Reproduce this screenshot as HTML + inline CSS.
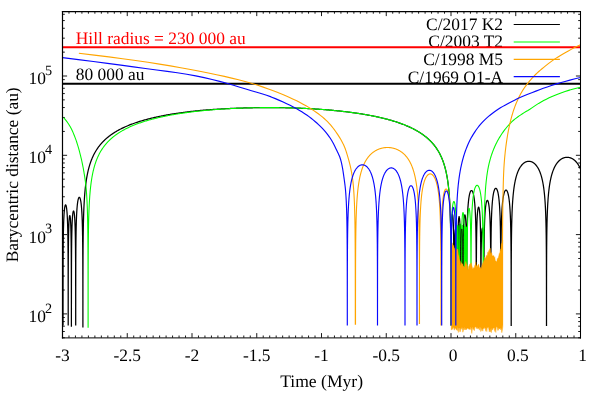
<!DOCTYPE html>
<html><head><meta charset="utf-8"><title>Barycentric distance</title>
<style>html,body{margin:0;padding:0;background:#fff}body{width:591px;height:393px;overflow:hidden;position:relative;font-family:"Liberation Serif",serif}</style>
</head><body>
<svg width="591" height="393" viewBox="0 0 591 393" style="position:absolute;left:0;top:0;will-change:transform">
<rect width="591" height="393" fill="#fff"/>
<defs><clipPath id="pc"><rect x="62.50" y="11.50" width="518.00" height="326.20"/></clipPath></defs>
<path d="M62.50 337.70 v-4.60 M62.50 11.50 v4.60 M68.97 337.70 v-2.20 M68.97 11.50 v2.20 M75.45 337.70 v-2.20 M75.45 11.50 v2.20 M81.92 337.70 v-2.20 M81.92 11.50 v2.20 M88.40 337.70 v-2.20 M88.40 11.50 v2.20 M94.88 337.70 v-2.20 M94.88 11.50 v2.20 M101.35 337.70 v-2.20 M101.35 11.50 v2.20 M107.83 337.70 v-2.20 M107.83 11.50 v2.20 M114.30 337.70 v-2.20 M114.30 11.50 v2.20 M120.78 337.70 v-2.20 M120.78 11.50 v2.20 M127.25 337.70 v-4.60 M127.25 11.50 v4.60 M133.72 337.70 v-2.20 M133.72 11.50 v2.20 M140.20 337.70 v-2.20 M140.20 11.50 v2.20 M146.68 337.70 v-2.20 M146.68 11.50 v2.20 M153.15 337.70 v-2.20 M153.15 11.50 v2.20 M159.62 337.70 v-2.20 M159.62 11.50 v2.20 M166.10 337.70 v-2.20 M166.10 11.50 v2.20 M172.57 337.70 v-2.20 M172.57 11.50 v2.20 M179.05 337.70 v-2.20 M179.05 11.50 v2.20 M185.53 337.70 v-2.20 M185.53 11.50 v2.20 M192.00 337.70 v-4.60 M192.00 11.50 v4.60 M198.47 337.70 v-2.20 M198.47 11.50 v2.20 M204.95 337.70 v-2.20 M204.95 11.50 v2.20 M211.43 337.70 v-2.20 M211.43 11.50 v2.20 M217.90 337.70 v-2.20 M217.90 11.50 v2.20 M224.38 337.70 v-2.20 M224.38 11.50 v2.20 M230.85 337.70 v-2.20 M230.85 11.50 v2.20 M237.32 337.70 v-2.20 M237.32 11.50 v2.20 M243.80 337.70 v-2.20 M243.80 11.50 v2.20 M250.28 337.70 v-2.20 M250.28 11.50 v2.20 M256.75 337.70 v-4.60 M256.75 11.50 v4.60 M263.23 337.70 v-2.20 M263.23 11.50 v2.20 M269.70 337.70 v-2.20 M269.70 11.50 v2.20 M276.18 337.70 v-2.20 M276.18 11.50 v2.20 M282.65 337.70 v-2.20 M282.65 11.50 v2.20 M289.12 337.70 v-2.20 M289.12 11.50 v2.20 M295.60 337.70 v-2.20 M295.60 11.50 v2.20 M302.07 337.70 v-2.20 M302.07 11.50 v2.20 M308.55 337.70 v-2.20 M308.55 11.50 v2.20 M315.02 337.70 v-2.20 M315.02 11.50 v2.20 M321.50 337.70 v-4.60 M321.50 11.50 v4.60 M327.98 337.70 v-2.20 M327.98 11.50 v2.20 M334.45 337.70 v-2.20 M334.45 11.50 v2.20 M340.93 337.70 v-2.20 M340.93 11.50 v2.20 M347.40 337.70 v-2.20 M347.40 11.50 v2.20 M353.88 337.70 v-2.20 M353.88 11.50 v2.20 M360.35 337.70 v-2.20 M360.35 11.50 v2.20 M366.82 337.70 v-2.20 M366.82 11.50 v2.20 M373.30 337.70 v-2.20 M373.30 11.50 v2.20 M379.77 337.70 v-2.20 M379.77 11.50 v2.20 M386.25 337.70 v-4.60 M386.25 11.50 v4.60 M392.73 337.70 v-2.20 M392.73 11.50 v2.20 M399.20 337.70 v-2.20 M399.20 11.50 v2.20 M405.68 337.70 v-2.20 M405.68 11.50 v2.20 M412.15 337.70 v-2.20 M412.15 11.50 v2.20 M418.62 337.70 v-2.20 M418.62 11.50 v2.20 M425.10 337.70 v-2.20 M425.10 11.50 v2.20 M431.57 337.70 v-2.20 M431.57 11.50 v2.20 M438.05 337.70 v-2.20 M438.05 11.50 v2.20 M444.52 337.70 v-2.20 M444.52 11.50 v2.20 M451.00 337.70 v-4.60 M451.00 11.50 v4.60 M457.48 337.70 v-2.20 M457.48 11.50 v2.20 M463.95 337.70 v-2.20 M463.95 11.50 v2.20 M470.43 337.70 v-2.20 M470.43 11.50 v2.20 M476.90 337.70 v-2.20 M476.90 11.50 v2.20 M483.38 337.70 v-2.20 M483.38 11.50 v2.20 M489.85 337.70 v-2.20 M489.85 11.50 v2.20 M496.32 337.70 v-2.20 M496.32 11.50 v2.20 M502.80 337.70 v-2.20 M502.80 11.50 v2.20 M509.27 337.70 v-2.20 M509.27 11.50 v2.20 M515.75 337.70 v-4.60 M515.75 11.50 v4.60 M522.23 337.70 v-2.20 M522.23 11.50 v2.20 M528.70 337.70 v-2.20 M528.70 11.50 v2.20 M535.17 337.70 v-2.20 M535.17 11.50 v2.20 M541.65 337.70 v-2.20 M541.65 11.50 v2.20 M548.12 337.70 v-2.20 M548.12 11.50 v2.20 M554.60 337.70 v-2.20 M554.60 11.50 v2.20 M561.08 337.70 v-2.20 M561.08 11.50 v2.20 M567.55 337.70 v-2.20 M567.55 11.50 v2.20 M574.02 337.70 v-2.20 M574.02 11.50 v2.20 M580.50 337.70 v-4.60 M580.50 11.50 v4.60 M62.50 337.77 h2.30 M580.50 337.77 h-2.30 M62.50 331.49 h2.30 M580.50 331.49 h-2.30 M62.50 326.18 h2.30 M580.50 326.18 h-2.30 M62.50 321.58 h2.30 M580.50 321.58 h-2.30 M62.50 317.53 h2.30 M580.50 317.53 h-2.30 M62.50 313.90 h4.60 M580.50 313.90 h-4.60 M62.50 290.03 h2.30 M580.50 290.03 h-2.30 M62.50 276.06 h2.30 M580.50 276.06 h-2.30 M62.50 266.16 h2.30 M580.50 266.16 h-2.30 M62.50 258.47 h2.30 M580.50 258.47 h-2.30 M62.50 252.19 h2.30 M580.50 252.19 h-2.30 M62.50 246.88 h2.30 M580.50 246.88 h-2.30 M62.50 242.28 h2.30 M580.50 242.28 h-2.30 M62.50 238.23 h2.30 M580.50 238.23 h-2.30 M62.50 234.60 h4.60 M580.50 234.60 h-4.60 M62.50 210.73 h2.30 M580.50 210.73 h-2.30 M62.50 196.76 h2.30 M580.50 196.76 h-2.30 M62.50 186.86 h2.30 M580.50 186.86 h-2.30 M62.50 179.17 h2.30 M580.50 179.17 h-2.30 M62.50 172.89 h2.30 M580.50 172.89 h-2.30 M62.50 167.58 h2.30 M580.50 167.58 h-2.30 M62.50 162.98 h2.30 M580.50 162.98 h-2.30 M62.50 158.93 h2.30 M580.50 158.93 h-2.30 M62.50 155.30 h4.60 M580.50 155.30 h-4.60 M62.50 131.43 h2.30 M580.50 131.43 h-2.30 M62.50 117.46 h2.30 M580.50 117.46 h-2.30 M62.50 107.56 h2.30 M580.50 107.56 h-2.30 M62.50 99.87 h2.30 M580.50 99.87 h-2.30 M62.50 93.59 h2.30 M580.50 93.59 h-2.30 M62.50 88.28 h2.30 M580.50 88.28 h-2.30 M62.50 83.68 h2.30 M580.50 83.68 h-2.30 M62.50 79.63 h2.30 M580.50 79.63 h-2.30 M62.50 76.00 h4.60 M580.50 76.00 h-4.60 M62.50 52.13 h2.30 M580.50 52.13 h-2.30 M62.50 38.16 h2.30 M580.50 38.16 h-2.30 M62.50 28.26 h2.30 M580.50 28.26 h-2.30 M62.50 20.57 h2.30 M580.50 20.57 h-2.30 M62.50 14.29 h2.30 M580.50 14.29 h-2.30" stroke="#000" stroke-width="0.9" fill="none"/>
<g font-family="'Liberation Serif', serif" font-size="17.42" text-rendering="geometricPrecision" style="will-change:transform"><text x="62.50" y="361.40" text-anchor="middle" fill="#000" >-3</text><text x="127.25" y="361.40" text-anchor="middle" fill="#000" >-2.5</text><text x="192.00" y="361.40" text-anchor="middle" fill="#000" >-2</text><text x="256.75" y="361.40" text-anchor="middle" fill="#000" >-1.5</text><text x="321.50" y="361.40" text-anchor="middle" fill="#000" >-1</text><text x="386.25" y="361.40" text-anchor="middle" fill="#000" >-0.5</text><text x="451.00" y="361.40" text-anchor="middle" fill="#000" >&#160;0</text><text x="515.75" y="361.40" text-anchor="middle" fill="#000" >&#160;0.5</text><text x="580.50" y="361.40" text-anchor="middle" fill="#000" >&#160;1</text><text x="321.60" y="387.00" text-anchor="middle" fill="#000" font-size="17.6">Time (Myr)</text><text x="52.10" y="321.80" text-anchor="end" fill="#000" >10<tspan dx="-0.9" dy="-9.3" font-size="14.2">2</tspan></text><text x="52.10" y="242.50" text-anchor="end" fill="#000" >10<tspan dx="-0.9" dy="-9.3" font-size="14.2">3</tspan></text><text x="52.10" y="163.20" text-anchor="end" fill="#000" >10<tspan dx="-0.9" dy="-9.3" font-size="14.2">4</tspan></text><text x="52.10" y="83.90" text-anchor="end" fill="#000" >10<tspan dx="-0.9" dy="-9.3" font-size="14.2">5</tspan></text><text transform="translate(17.9,174.8) rotate(-90)" text-anchor="middle">Barycentric distance (au)</text><text x="75.80" y="43.50" text-anchor="start" fill="#ff0000" >Hill radius = 230 000 au</text><text x="75.80" y="79.90" text-anchor="start" fill="#000" >80 000 au</text><text x="503.00" y="30.30" text-anchor="end" fill="#000" >C/2017 K2</text><text x="503.00" y="47.30" text-anchor="end" fill="#000" >C/2003 T2</text><text x="503.00" y="65.00" text-anchor="end" fill="#000" >C/1998 M5</text><text x="503.00" y="82.50" text-anchor="end" fill="#000" >C/1969 O1-A</text></g>
<path d="M62.50 47.15 H580.50" stroke="#ff0000" stroke-width="2"/>
<path d="M62.50 83.70 H580.50" stroke="#000" stroke-width="2"/>
<defs><clipPath id="pc2"><rect x="458.2" y="224" width="5.8" height="120"/></clipPath></defs>
<g clip-path="url(#pc)">
<path d="M63.01 325.50 L63.01 324.64 L63.01 317.47 L63.01 311.00 L63.01 305.11 L63.02 299.70 L63.02 294.72 L63.03 290.10 L63.03 285.79 L63.04 281.76 L63.05 277.98 L63.06 274.42 L63.06 271.06 L63.07 267.88 L63.09 264.87 L63.10 262.01 L63.11 259.29 L63.12 256.70 L63.14 254.23 L63.16 251.87 L63.17 249.61 L63.19 247.45 L63.21 245.38 L63.23 243.40 L63.25 241.50 L63.28 239.68 L63.30 237.93 L63.33 236.25 L63.35 234.63 L63.38 233.08 L63.41 231.59 L63.44 230.15 L63.47 228.77 L63.51 227.45 L63.54 226.17 L63.58 224.94 L63.61 223.77 L63.65 222.63 L63.69 221.55 L63.73 220.50 L63.77 219.50 L63.82 218.54 L63.86 217.61 L63.91 216.73 L63.95 215.88 L64.00 215.07 L64.05 214.29 L64.10 213.55 L64.15 212.85 L64.20 212.18 L64.26 211.54 L64.31 210.93 L64.36 210.35 L64.42 209.81 L64.48 209.29 L64.54 208.81 L64.59 208.36 L64.65 207.93 L64.71 207.54 L64.77 207.17 L64.83 206.83 L64.90 206.52 L64.96 206.24 L65.02 205.98 L65.08 205.75 L65.15 205.55 L65.21 205.38 L65.28 205.23 L65.34 205.11 L65.41 205.02 L65.47 204.95 L65.54 204.91 L65.60 204.90 L65.66 204.91 L65.73 204.95 L65.79 205.02 L65.86 205.11 L65.92 205.23 L65.99 205.38 L66.05 205.55 L66.12 205.75 L66.18 205.98 L66.24 206.24 L66.30 206.52 L66.37 206.83 L66.43 207.17 L66.49 207.54 L66.55 207.93 L66.61 208.36 L66.66 208.81 L66.72 209.29 L66.78 209.81 L66.84 210.35 L66.89 210.93 L66.94 211.54 L67.00 212.18 L67.05 212.85 L67.10 213.55 L67.15 214.29 L67.20 215.07 L67.25 215.88 L67.29 216.73 L67.34 217.61 L67.38 218.54 L67.43 219.50 L67.47 220.50 L67.51 221.55 L67.55 222.63 L67.59 223.77 L67.62 224.94 L67.66 226.17 L67.69 227.45 L67.73 228.77 L67.76 230.15 L67.79 231.59 L67.82 233.08 L67.85 234.63 L67.87 236.25 L67.90 237.93 L67.92 239.68 L67.95 241.50 L67.97 243.40 L67.99 245.38 L68.01 247.45 L68.03 249.61 L68.04 251.87 L68.06 254.23 L68.08 256.70 L68.09 259.29 L68.10 262.01 L68.11 264.87 L68.13 267.88 L68.14 271.06 L68.14 274.42 L68.15 277.98 L68.16 281.76 L68.17 285.79 L68.17 290.10 L68.18 294.72 L68.18 299.70 L68.19 305.11 L68.19 311.00 L68.19 317.47 L68.19 324.64 L68.19 325.60 M68.21 325.60 L68.21 321.70 L68.21 315.81 L68.21 310.40 L68.21 305.42 L68.22 300.80 L68.22 296.49 L68.22 292.46 L68.23 288.68 L68.23 285.12 L68.24 281.76 L68.25 278.58 L68.25 275.57 L68.26 272.71 L68.27 269.99 L68.28 267.40 L68.29 264.93 L68.30 262.57 L68.31 260.31 L68.32 258.15 L68.33 256.08 L68.34 254.10 L68.36 252.20 L68.37 250.38 L68.38 248.63 L68.40 246.95 L68.42 245.33 L68.43 243.78 L68.45 242.29 L68.47 240.85 L68.49 239.47 L68.51 238.15 L68.53 236.87 L68.55 235.64 L68.58 234.47 L68.60 233.33 L68.62 232.25 L68.65 231.20 L68.68 230.20 L68.70 229.24 L68.73 228.31 L68.76 227.43 L68.79 226.58 L68.82 225.77 L68.85 224.99 L68.88 224.25 L68.91 223.55 L68.94 222.88 L68.97 222.24 L69.01 221.63 L69.04 221.05 L69.07 220.51 L69.11 219.99 L69.14 219.51 L69.18 219.06 L69.22 218.63 L69.25 218.24 L69.29 217.87 L69.33 217.53 L69.37 217.22 L69.41 216.94 L69.44 216.68 L69.48 216.45 L69.52 216.25 L69.56 216.08 L69.60 215.93 L69.64 215.81 L69.68 215.72 L69.72 215.65 L69.76 215.61 L69.80 215.60 L69.84 215.61 L69.88 215.65 L69.92 215.72 L69.96 215.81 L70.00 215.93 L70.04 216.08 L70.08 216.25 L70.12 216.45 L70.16 216.68 L70.19 216.94 L70.23 217.22 L70.27 217.53 L70.31 217.87 L70.35 218.24 L70.38 218.63 L70.42 219.06 L70.46 219.51 L70.49 219.99 L70.53 220.51 L70.56 221.05 L70.59 221.63 L70.63 222.24 L70.66 222.88 L70.69 223.55 L70.72 224.25 L70.75 224.99 L70.78 225.77 L70.81 226.58 L70.84 227.43 L70.87 228.31 L70.90 229.24 L70.92 230.20 L70.95 231.20 L70.98 232.25 L71.00 233.33 L71.02 234.47 L71.05 235.64 L71.07 236.87 L71.09 238.15 L71.11 239.47 L71.13 240.85 L71.15 242.29 L71.17 243.78 L71.18 245.33 L71.20 246.95 L71.22 248.63 L71.23 250.38 L71.24 252.20 L71.26 254.10 L71.27 256.08 L71.28 258.15 L71.29 260.31 L71.30 262.57 L71.31 264.93 L71.32 267.40 L71.33 269.99 L71.34 272.71 L71.35 275.57 L71.35 278.58 L71.36 281.76 L71.37 285.12 L71.37 288.68 L71.38 292.46 L71.38 296.49 L71.38 300.80 L71.39 305.42 L71.39 310.40 L71.39 315.81 L71.39 321.70 L71.39 326.80 M71.41 326.80 L71.41 323.57 L71.41 317.10 L71.41 311.21 L71.41 305.80 L71.42 300.82 L71.42 296.20 L71.43 291.89 L71.43 287.86 L71.44 284.08 L71.45 280.52 L71.45 277.16 L71.46 273.98 L71.47 270.97 L71.48 268.11 L71.49 265.39 L71.50 262.80 L71.52 260.33 L71.53 257.97 L71.54 255.71 L71.56 253.55 L71.57 251.48 L71.59 249.50 L71.61 247.60 L71.63 245.78 L71.65 244.03 L71.67 242.35 L71.69 240.73 L71.71 239.18 L71.74 237.69 L71.76 236.25 L71.79 234.87 L71.82 233.55 L71.85 232.27 L71.88 231.04 L71.91 229.87 L71.94 228.73 L71.97 227.65 L72.00 226.60 L72.04 225.60 L72.07 224.64 L72.11 223.71 L72.15 222.83 L72.19 221.98 L72.23 221.17 L72.27 220.39 L72.31 219.65 L72.35 218.95 L72.39 218.28 L72.44 217.64 L72.48 217.03 L72.53 216.45 L72.57 215.91 L72.62 215.39 L72.67 214.91 L72.72 214.46 L72.77 214.03 L72.82 213.64 L72.87 213.27 L72.92 212.93 L72.97 212.62 L73.02 212.34 L73.07 212.08 L73.12 211.85 L73.18 211.65 L73.23 211.48 L73.28 211.33 L73.34 211.21 L73.39 211.12 L73.44 211.05 L73.50 211.01 L73.55 211.00 L73.60 211.01 L73.66 211.05 L73.71 211.12 L73.76 211.21 L73.82 211.33 L73.87 211.48 L73.92 211.65 L73.98 211.85 L74.03 212.08 L74.08 212.34 L74.13 212.62 L74.18 212.93 L74.23 213.27 L74.28 213.64 L74.33 214.03 L74.38 214.46 L74.43 214.91 L74.48 215.39 L74.53 215.91 L74.57 216.45 L74.62 217.03 L74.66 217.64 L74.71 218.28 L74.75 218.95 L74.79 219.65 L74.83 220.39 L74.87 221.17 L74.91 221.98 L74.95 222.83 L74.99 223.71 L75.03 224.64 L75.06 225.60 L75.10 226.60 L75.13 227.65 L75.16 228.73 L75.19 229.87 L75.22 231.04 L75.25 232.27 L75.28 233.55 L75.31 234.87 L75.34 236.25 L75.36 237.69 L75.39 239.18 L75.41 240.73 L75.43 242.35 L75.45 244.03 L75.47 245.78 L75.49 247.60 L75.51 249.50 L75.53 251.48 L75.54 253.55 L75.56 255.71 L75.57 257.97 L75.58 260.33 L75.60 262.80 L75.61 265.39 L75.62 268.11 L75.63 270.97 L75.64 273.98 L75.65 277.16 L75.65 280.52 L75.66 284.08 L75.67 287.86 L75.67 291.89 L75.68 296.20 L75.68 300.82 L75.69 305.80 L75.69 311.21 L75.69 317.10 L75.69 323.57 L75.69 325.60 M75.71 325.60 L75.71 325.08 L75.71 317.04 L75.71 309.87 L75.72 303.40 L75.72 297.51 L75.73 292.10 L75.73 287.12 L75.74 282.50 L75.75 278.19 L75.76 274.16 L75.77 270.38 L75.78 266.82 L75.79 263.46 L75.80 260.28 L75.82 257.27 L75.84 254.41 L75.85 251.69 L75.87 249.10 L75.89 246.63 L75.92 244.27 L75.94 242.01 L75.96 239.85 L75.99 237.78 L76.02 235.80 L76.05 233.90 L76.08 232.08 L76.12 230.33 L76.15 228.65 L76.19 227.03 L76.23 225.48 L76.27 223.99 L76.31 222.55 L76.35 221.17 L76.40 219.85 L76.45 218.57 L76.50 217.34 L76.55 216.17 L76.60 215.03 L76.66 213.95 L76.71 212.90 L76.77 211.90 L76.83 210.94 L76.89 210.01 L76.95 209.13 L77.02 208.28 L77.09 207.47 L77.15 206.69 L77.22 205.95 L77.29 205.25 L77.37 204.58 L77.44 203.94 L77.51 203.33 L77.59 202.75 L77.67 202.21 L77.75 201.69 L77.83 201.21 L77.91 200.76 L77.99 200.33 L78.07 199.94 L78.16 199.57 L78.24 199.23 L78.33 198.92 L78.41 198.64 L78.50 198.38 L78.59 198.15 L78.67 197.95 L78.76 197.78 L78.85 197.63 L78.94 197.51 L79.03 197.42 L79.12 197.35 L79.21 197.31 L79.30 197.30 L79.39 197.31 L79.48 197.35 L79.57 197.42 L79.66 197.51 L79.75 197.63 L79.84 197.78 L79.93 197.95 L80.01 198.15 L80.10 198.38 L80.19 198.64 L80.27 198.92 L80.36 199.23 L80.44 199.57 L80.53 199.94 L80.61 200.33 L80.69 200.76 L80.77 201.21 L80.85 201.69 L80.93 202.21 L81.01 202.75 L81.09 203.33 L81.16 203.94 L81.23 204.58 L81.31 205.25 L81.38 205.95 L81.45 206.69 L81.51 207.47 L81.58 208.28 L81.65 209.13 L81.71 210.01 L81.77 210.94 L81.83 211.90 L81.89 212.90 L81.94 213.95 L82.00 215.03 L82.05 216.17 L82.10 217.34 L82.15 218.57 L82.20 219.85 L82.25 221.17 L82.29 222.55 L82.33 223.99 L82.37 225.48 L82.41 227.03 L82.45 228.65 L82.48 230.33 L82.52 232.08 L82.55 233.90 L82.58 235.80 L82.61 237.78 L82.64 239.85 L82.66 242.01 L82.68 244.27 L82.71 246.63 L82.73 249.10 L82.75 251.69 L82.76 254.41 L82.78 257.27 L82.80 260.28 L82.81 263.46 L82.82 266.82 L82.83 270.38 L82.84 274.16 L82.85 278.19 L82.86 282.50 L82.87 287.12 L82.87 292.10 L82.88 297.51 L82.88 303.40 L82.89 309.87 L82.89 317.04 L82.89 325.08 L82.89 327.40 M82.91 327.40 L82.91 321.31 L82.91 314.75 L82.91 308.76 L82.92 303.25 L82.92 298.15 L82.92 293.41 L82.93 288.97 L82.93 284.80 L82.94 280.87 L82.95 277.16 L82.96 273.63 L82.97 270.28 L82.98 267.09 L82.99 264.04 L83.00 261.12 L83.01 258.32 L83.02 255.63 L83.04 253.04 L83.05 250.55 L83.07 248.14 L83.09 245.82 L83.11 243.58 L83.13 241.40 L83.15 239.30 L83.18 237.26 L83.20 235.28 L83.23 233.35 L83.26 231.48 L83.29 229.67 L83.32 227.89 L83.35 226.17 L83.38 224.49 L83.42 222.85 L83.46 221.24 L83.50 219.68 L83.54 218.15 L83.58 216.66 L83.63 215.20 L83.67 213.77 L83.72 212.38 L83.77 211.01 L83.83 209.67 L83.88 208.35 L83.94 207.07 L84.00 205.80 L84.06 204.56 L84.12 203.35 L84.19 202.16 L84.26 200.98 L84.33 199.83 L84.40 198.70 L84.48 197.59 L84.56 196.50 L84.64 195.43 L84.72 194.37 L84.81 193.34 L84.89 192.32 L84.99 191.31 L85.08 190.32 L85.18 189.35 L85.27 188.39 L85.38 187.44 L85.48 186.51 L85.59 185.60 L85.70 184.70 L85.81 183.81 L85.93 182.93 L86.05 182.06 L86.17 181.21 L86.29 180.37 L86.42 179.54 L86.55 178.72 L86.69 177.92 L86.83 177.12 L86.97 176.33 L87.11 175.56 L87.26 174.79 L87.41 174.04 L87.56 173.29 L87.72 172.55 L87.88 171.82 L88.05 171.11 L88.21 170.40 L88.39 169.69 L88.56 169.00 L88.74 168.32 L88.92 167.64 L89.10 166.97 L89.29 166.31 L89.49 165.66 L89.68 165.01 L89.88 164.37 L90.09 163.74 L90.29 163.12 L90.50 162.50 L90.72 161.89 L90.94 161.29 L91.16 160.69 L91.39 160.10 L91.62 159.52 L91.85 158.94 L92.09 158.37 L92.33 157.80 L92.58 157.24 L92.83 156.69 L93.08 156.14 L93.34 155.60 L93.60 155.07 L93.87 154.53 L94.14 154.01 L94.41 153.49 L94.69 152.97 L94.97 152.46 L95.26 151.96 L95.55 151.46 L95.85 150.97 L96.15 150.48 L96.45 149.99 L96.76 149.51 L97.07 149.04 L97.39 148.57 L97.71 148.10 L98.04 147.64 L98.37 147.18 L98.70 146.73 L99.04 146.28 L99.38 145.84 L99.73 145.40 L100.08 144.96 L100.44 144.53 L100.80 144.10 L101.17 143.68 L101.54 143.26 L101.91 142.84 L102.29 142.43 L102.68 142.02 L103.06 141.62 L103.46 141.22 L103.85 140.82 L104.26 140.43 L104.66 140.04 L105.07 139.65 L105.49 139.27 L105.91 138.89 L106.33 138.52 L106.76 138.15 L107.20 137.78 L107.64 137.41 L108.08 137.05 L108.53 136.69 L108.98 136.34 L109.44 135.98 L109.90 135.63 L110.37 135.29 L110.84 134.95 L111.32 134.61 L111.80 134.27 L112.28 133.94 L112.77 133.61 L113.27 133.28 L113.77 132.95 L114.27 132.63 L114.78 132.31 L115.30 132.00 L115.82 131.68 L116.34 131.37 L116.87 131.06 L117.40 130.76 L117.94 130.46 L118.48 130.16 L119.03 129.86 L119.58 129.57 L120.14 129.27 L120.70 128.99 L121.26 128.70 L121.83 128.42 L122.41 128.13 L122.99 127.86 L123.57 127.58 L124.16 127.31 L124.76 127.03 L125.36 126.76 L125.96 126.50 L126.57 126.23 L127.18 125.97 L127.80 125.71 L128.42 125.46 L129.05 125.20 L129.68 124.95 L130.31 124.70 L130.96 124.45 L131.60 124.21 L132.25 123.96 L132.90 123.72 L133.56 123.48 L134.23 123.25 L134.90 123.01 L135.57 122.78 L136.24 122.55 L136.93 122.32 L137.61 122.10 L138.30 121.87 L139.00 121.65 L139.70 121.43 L140.40 121.22 L141.11 121.00 L141.82 120.79 L142.54 120.58 L143.26 120.37 L143.99 120.16 L144.72 119.96 L145.45 119.75 L146.19 119.55 L146.94 119.35 L147.68 119.16 L148.43 118.96 L149.19 118.77 L149.95 118.58 L150.72 118.39 L151.48 118.20 L152.26 118.01 L153.03 117.83 L153.82 117.65 L154.60 117.47 L155.39 117.29 L156.18 117.11 L156.98 116.94 L157.78 116.77 L158.59 116.59 L159.40 116.43 L160.21 116.26 L161.03 116.09 L161.85 115.93 L162.68 115.77 L163.51 115.61 L164.34 115.45 L165.18 115.29 L166.02 115.14 L166.86 114.98 L167.71 114.83 L168.56 114.68 L169.42 114.54 L170.28 114.39 L171.14 114.24 L172.00 114.10 L172.87 113.96 L173.75 113.82 L174.63 113.68 L175.51 113.55 L176.39 113.41 L177.28 113.28 L178.17 113.15 L179.06 113.02 L179.96 112.89 L180.86 112.76 L181.77 112.64 L182.67 112.52 L183.58 112.39 L184.50 112.27 L185.42 112.16 L186.34 112.04 L187.26 111.92 L188.19 111.81 L189.12 111.70 L190.05 111.59 L190.98 111.48 L191.92 111.37 L192.86 111.26 L193.81 111.16 L194.75 111.06 L195.70 110.96 L196.66 110.86 L197.61 110.76 L198.57 110.66 L199.53 110.57 L200.50 110.48 L201.46 110.39 L202.43 110.31 L203.40 110.23 L204.37 110.15 L205.35 110.07 L206.33 109.99 L207.31 109.91 L208.29 109.83 L209.28 109.76 L210.27 109.69 L211.26 109.61 L212.25 109.54 L213.24 109.47 L214.24 109.40 L215.24 109.34 L216.24 109.27 L217.24 109.21 L218.25 109.14 L219.25 109.08 L220.26 109.02 L221.27 108.96 L222.28 108.90 L223.30 108.85 L224.31 108.79 L225.33 108.74 L226.35 108.68 L227.37 108.63 L228.39 108.58 L229.42 108.53 L230.44 108.48 L231.47 108.44 L232.50 108.39 L233.53 108.35 L234.56 108.31 L235.59 108.26 L236.62 108.22 L237.66 108.18 L238.69 108.15 L239.73 108.11 L240.77 108.08 L241.81 108.04 L242.85 108.01 L243.89 107.98 L244.93 107.95 L245.97 107.92 L247.02 107.89 L248.06 107.87 L249.11 107.84 L250.15 107.82 L251.20 107.79 L252.25 107.77 L253.29 107.75 L254.34 107.74 L255.39 107.72 L256.44 107.70 L257.49 107.69 L258.54 107.68 L259.59 107.66 L260.64 107.65 L261.69 107.64 L262.74 107.63 L263.80 107.62 L264.85 107.61 L265.90 107.61 L266.95 107.60 L268.00 107.60 L269.05 107.60 L270.10 107.60 L271.16 107.60 L272.21 107.60 L273.26 107.61 L274.31 107.61 L275.36 107.62 L276.41 107.63 L277.46 107.64 L278.51 107.65 L279.56 107.66 L280.61 107.68 L281.65 107.69 L282.70 107.71 L283.75 107.73 L284.79 107.75 L285.84 107.77 L286.88 107.79 L287.93 107.82 L288.97 107.84 L290.01 107.87 L291.05 107.90 L292.09 107.93 L293.13 107.96 L294.17 107.99 L295.21 108.03 L296.24 108.07 L297.28 108.10 L298.31 108.14 L299.34 108.18 L300.37 108.22 L301.40 108.27 L302.43 108.31 L303.46 108.36 L304.48 108.40 L305.51 108.45 L306.53 108.50 L307.55 108.55 L308.57 108.61 L309.59 108.66 L310.60 108.72 L311.62 108.77 L312.63 108.83 L313.64 108.89 L314.65 108.96 L315.65 109.02 L316.66 109.08 L317.66 109.15 L318.66 109.22 L319.66 109.29 L320.66 109.36 L321.65 109.43 L322.64 109.50 L323.63 109.58 L324.62 109.66 L325.61 109.73 L326.59 109.81 L327.57 109.90 L328.55 109.98 L329.53 110.06 L330.50 110.15 L331.47 110.23 L332.44 110.32 L333.40 110.41 L334.37 110.51 L335.33 110.60 L336.29 110.69 L337.24 110.79 L338.20 110.89 L339.15 110.99 L340.09 111.09 L341.04 111.19 L341.98 111.30 L342.92 111.40 L343.85 111.51 L344.78 111.62 L345.71 111.73 L346.64 111.84 L347.56 111.95 L348.48 112.07 L349.40 112.19 L350.32 112.31 L351.23 112.43 L352.13 112.55 L353.04 112.67 L353.94 112.80 L354.84 112.92 L355.73 113.05 L356.62 113.18 L357.51 113.31 L358.39 113.45 L359.27 113.58 L360.15 113.72 L361.03 113.85 L361.90 113.99 L362.76 114.14 L363.62 114.28 L364.48 114.42 L365.34 114.57 L366.19 114.72 L367.04 114.87 L367.88 115.02 L368.72 115.18 L369.56 115.33 L370.39 115.49 L371.22 115.65 L372.05 115.81 L372.87 115.97 L373.69 116.14 L374.50 116.30 L375.31 116.47 L376.12 116.64 L376.92 116.81 L377.72 116.98 L378.51 117.16 L379.30 117.34 L380.08 117.52 L380.87 117.70 L381.64 117.88 L382.42 118.06 L383.18 118.25 L383.95 118.44 L384.71 118.63 L385.47 118.82 L386.22 119.02 L386.96 119.21 L387.71 119.41 L388.45 119.61 L389.18 119.81 L389.91 120.02 L390.64 120.22 L391.36 120.43 L392.08 120.64 L392.79 120.85 L393.50 121.07 L394.20 121.28 L394.90 121.50 L395.60 121.72 L396.29 121.94 L396.97 122.17 L397.66 122.40 L398.33 122.63 L399.00 122.86 L399.67 123.09 L400.34 123.33 L401.00 123.56 L401.65 123.80 L402.30 124.05 L402.94 124.29 L403.59 124.54 L404.22 124.79 L404.85 125.04 L405.48 125.29 L406.10 125.55 L406.72 125.81 L407.33 126.07 L407.94 126.33 L408.54 126.60 L409.14 126.86 L409.74 127.14 L410.33 127.41 L410.91 127.68 L411.49 127.96 L412.07 128.24 L412.64 128.53 L413.20 128.81 L413.76 129.10 L414.32 129.39 L414.87 129.68 L415.42 129.98 L415.96 130.28 L416.50 130.58 L417.03 130.89 L417.56 131.19 L418.08 131.50 L418.60 131.82 L419.12 132.13 L419.63 132.45 L420.13 132.77 L420.63 133.09 L421.13 133.42 L421.62 133.75 L422.10 134.08 L422.58 134.42 L423.06 134.76 L423.53 135.10 L424.00 135.45 L424.46 135.80 L424.92 136.15 L425.37 136.50 L425.82 136.86 L426.26 137.22 L426.70 137.59 L427.14 137.96 L427.57 138.33 L427.99 138.70 L428.41 139.08 L428.83 139.46 L429.24 139.85 L429.64 140.24 L430.05 140.63 L430.44 141.03 L430.84 141.43 L431.22 141.83 L431.61 142.24 L431.99 142.65 L432.36 143.06 L432.73 143.48 L433.10 143.90 L433.46 144.33 L433.82 144.76 L434.17 145.20 L434.52 145.64 L434.86 146.08 L435.20 146.53 L435.53 146.98 L435.86 147.44 L436.19 147.90 L436.51 148.37 L436.83 148.84 L437.14 149.31 L437.45 149.79 L437.75 150.27 L438.05 150.76 L438.35 151.26 L438.64 151.76 L438.93 152.26 L439.21 152.77 L439.49 153.28 L439.76 153.80 L440.03 154.33 L440.30 154.86 L440.56 155.40 L440.82 155.94 L441.07 156.48 L441.32 157.04 L441.57 157.60 L441.81 158.16 L442.05 158.73 L442.28 159.31 L442.51 159.89 L442.74 160.48 L442.96 161.08 L443.18 161.68 L443.40 162.29 L443.61 162.91 L443.81 163.53 L444.02 164.16 L444.22 164.80 L444.41 165.45 L444.61 166.10 L444.80 166.76 L444.98 167.43 L445.16 168.11 L445.34 168.79 L445.51 169.48 L445.69 170.18 L445.85 170.89 L446.02 171.61 L446.18 172.34 L446.34 173.08 L446.49 173.82 L446.64 174.58 L446.79 175.34 L446.93 176.12 L447.07 176.91 L447.21 177.70 L447.35 178.51 L447.48 179.33 L447.61 180.16 L447.73 181.00 L447.85 181.85 L447.97 182.71 L448.09 183.59 L448.20 184.48 L448.31 185.38 L448.42 186.30 L448.52 187.23 L448.63 188.17 L448.72 189.13 L448.82 190.11 L448.91 191.09 L449.01 192.10 L449.09 193.12 L449.18 194.16 L449.26 195.21 L449.34 196.29 L449.42 197.38 L449.50 198.49 L449.57 199.62 L449.64 200.77 L449.71 201.94 L449.78 203.13 L449.84 204.35 L449.90 205.59 L449.96 206.85 L450.02 208.14 L450.07 209.45 L450.13 210.79 L450.18 212.16 L450.23 213.56 L450.27 214.99 L450.32 216.45 L450.36 217.94 L450.40 219.47 L450.44 221.03 L450.48 222.63 L450.52 224.27 L450.55 225.95 L450.58 227.68 L450.61 229.45 L450.64 231.27 L450.67 233.14 L450.70 235.07 L450.72 237.05 L450.75 239.09 L450.77 241.19 L450.79 243.36 L450.81 245.61 L450.83 247.93 L450.85 250.34 L450.86 252.83 L450.88 255.42 L450.89 258.11 L450.90 261.12 L450.91 264.04 L450.92 267.09 L450.93 270.28 L450.94 273.63 L450.95 277.16 L450.96 280.87 L450.97 284.80 L450.97 288.97 L450.98 293.41 L450.98 298.15 L450.98 303.25 L450.99 308.76 L450.99 314.75 L450.99 321.31 L450.99 325.50 M451.00 325.50 L451.01 320.60 L451.01 314.71 L451.01 309.30 L451.01 304.32 L451.02 299.70 L451.02 295.39 L451.02 291.36 L451.03 287.58 L451.03 284.02 L451.04 280.66 L451.04 277.48 L451.05 274.47 L451.05 271.61 L451.06 268.89 L451.07 266.30 L451.08 263.83 L451.09 261.47 L451.10 259.21 L451.11 257.05 L451.12 254.98 L451.13 253.00 L451.14 251.10 L451.15 249.28 L451.17 247.53 L451.18 245.85 L451.20 244.23 L451.21 242.68 L451.23 241.19 L451.25 239.75 L451.26 238.37 L451.28 237.05 L451.30 235.77 L451.32 234.54 L451.34 233.37 L451.36 232.23 L451.38 231.15 L451.41 230.10 L451.43 229.10 L451.46 228.14 L451.48 227.21 L451.51 226.33 L451.53 225.48 L451.56 224.67 L451.59 223.89 L451.61 223.15 L451.64 222.45 L451.67 221.78 L451.70 221.14 L451.73 220.53 L451.76 219.95 L451.79 219.41 L451.82 218.89 L451.86 218.41 L451.89 217.96 L451.92 217.53 L451.96 217.14 L451.99 216.77 L452.02 216.43 L452.06 216.12 L452.09 215.84 L452.13 215.58 L452.16 215.35 L452.20 215.15 L452.23 214.98 L452.27 214.83 L452.31 214.71 L452.34 214.62 L452.38 214.55 L452.41 214.51 L452.45 214.50 L452.49 214.51 L452.52 214.55 L452.56 214.62 L452.59 214.71 L452.63 214.83 L452.67 214.98 L452.70 215.15 L452.74 215.35 L452.77 215.58 L452.81 215.84 L452.84 216.12 L452.88 216.43 L452.91 216.77 L452.94 217.14 L452.98 217.53 L453.01 217.96 L453.04 218.41 L453.08 218.89 L453.11 219.41 L453.14 219.95 L453.17 220.53 L453.20 221.14 L453.23 221.78 L453.26 222.45 L453.29 223.15 L453.31 223.89 L453.34 224.67 L453.37 225.48 L453.39 226.33 L453.42 227.21 L453.44 228.14 L453.47 229.10 L453.49 230.10 L453.52 231.15 L453.54 232.23 L453.56 233.37 L453.58 234.54 L453.60 235.77 L453.62 237.05 L453.64 238.37 L453.65 239.75 L453.67 241.19 L453.69 242.68 L453.70 244.23 L453.72 245.85 L453.73 247.53 L453.75 249.28 L453.76 251.10 L453.77 253.00 L453.78 254.98 L453.79 257.05 L453.80 259.21 L453.81 261.47 L453.82 263.83 L453.83 266.30 L453.84 268.89 L453.85 271.61 L453.85 274.47 L453.86 277.48 L453.86 280.66 L453.87 284.02 L453.87 287.58 L453.88 291.36 L453.88 295.39 L453.88 299.70 L453.89 304.32 L453.89 309.30 L453.89 314.71 L453.89 320.60 L453.90 325.50 M453.91 325.50 L453.91 323.80 L453.92 318.82 L453.92 314.20 L453.92 309.89 L453.93 305.86 L453.93 302.08 L453.94 298.52 L453.95 295.16 L453.95 291.98 L453.96 288.97 L453.97 286.11 L453.98 283.39 L453.99 280.80 L454.00 278.33 L454.01 275.97 L454.02 273.71 L454.04 271.55 L454.05 269.48 L454.06 267.50 L454.08 265.60 L454.10 263.78 L454.11 262.03 L454.13 260.35 L454.15 258.73 L454.17 257.18 L454.19 255.69 L454.21 254.25 L454.24 252.87 L454.26 251.55 L454.28 250.27 L454.31 249.04 L454.34 247.87 L454.36 246.73 L454.39 245.65 L454.42 244.60 L454.45 243.60 L454.48 242.64 L454.51 241.71 L454.54 240.83 L454.58 239.98 L454.61 239.17 L454.65 238.39 L454.68 237.65 L454.72 236.95 L454.76 236.28 L454.79 235.64 L454.83 235.03 L454.87 234.45 L454.91 233.91 L454.95 233.39 L454.99 232.91 L455.03 232.46 L455.08 232.03 L455.12 231.64 L455.16 231.27 L455.21 230.93 L455.25 230.62 L455.29 230.34 L455.34 230.08 L455.38 229.85 L455.43 229.65 L455.47 229.48 L455.52 229.33 L455.57 229.21 L455.61 229.12 L455.66 229.05 L455.70 229.01 L455.75 229.00 L455.80 229.01 L455.84 229.05 L455.89 229.12 L455.93 229.21 L455.98 229.33 L456.03 229.48 L456.07 229.65 L456.12 229.85 L456.16 230.08 L456.21 230.34 L456.25 230.62 L456.29 230.93 L456.34 231.27 L456.38 231.64 L456.42 232.03 L456.47 232.46 L456.51 232.91 L456.55 233.39 L456.59 233.91 L456.63 234.45 L456.67 235.03 L456.71 235.64 L456.74 236.28 L456.78 236.95 L456.82 237.65 L456.85 238.39 L456.89 239.17 L456.92 239.98 L456.96 240.83 L456.99 241.71 L457.02 242.64 L457.05 243.60 L457.08 244.60 L457.11 245.65 L457.14 246.73 L457.16 247.87 L457.19 249.04 L457.22 250.27 L457.24 251.55 L457.26 252.87 L457.29 254.25 L457.31 255.69 L457.33 257.18 L457.35 258.73 L457.37 260.35 L457.39 262.03 L457.40 263.78 L457.42 265.60 L457.44 267.50 L457.45 269.48 L457.46 271.55 L457.48 273.71 L457.49 275.97 L457.50 278.33 L457.51 280.80 L457.52 283.39 L457.53 286.11 L457.54 288.97 L457.55 291.98 L457.55 295.16 L457.56 298.52 L457.57 302.08 L457.57 305.86 L457.58 309.89 L457.58 314.20 L457.58 318.82 L457.59 323.80 L457.59 325.50 M457.61 325.50 L457.61 322.80 L457.61 316.91 L457.61 311.50 L457.61 306.52 L457.62 301.90 L457.62 297.59 L457.62 293.56 L457.63 289.78 L457.63 286.22 L457.64 282.86 L457.64 279.68 L457.65 276.67 L457.66 273.81 L457.66 271.09 L457.67 268.50 L457.68 266.03 L457.69 263.67 L457.70 261.41 L457.71 259.25 L457.72 257.18 L457.73 255.20 L457.75 253.30 L457.76 251.48 L457.77 249.73 L457.79 248.05 L457.80 246.43 L457.82 244.88 L457.84 243.39 L457.85 241.95 L457.87 240.57 L457.89 239.25 L457.91 237.97 L457.93 236.74 L457.95 235.57 L457.98 234.43 L458.00 233.35 L458.02 232.30 L458.05 231.30 L458.07 230.34 L458.10 229.41 L458.12 228.53 L458.15 227.68 L458.18 226.87 L458.21 226.09 L458.23 225.35 L458.26 224.65 L458.29 223.98 L458.32 223.34 L458.36 222.73 L458.39 222.15 L458.42 221.61 L458.45 221.09 L458.49 220.61 L458.52 220.16 L458.55 219.73 L458.59 219.34 L458.62 218.97 L458.66 218.63 L458.69 218.32 L458.73 218.04 L458.77 217.78 L458.80 217.55 L458.84 217.35 L458.88 217.18 L458.91 217.03 L458.95 216.91 L458.99 216.82 L459.03 216.75 L459.06 216.71 L459.10 216.70 L459.14 216.71 L459.17 216.75 L459.21 216.82 L459.25 216.91 L459.29 217.03 L459.32 217.18 L459.36 217.35 L459.40 217.55 L459.43 217.78 L459.47 218.04 L459.51 218.32 L459.54 218.63 L459.58 218.97 L459.61 219.34 L459.65 219.73 L459.68 220.16 L459.71 220.61 L459.75 221.09 L459.78 221.61 L459.81 222.15 L459.84 222.73 L459.88 223.34 L459.91 223.98 L459.94 224.65 L459.97 225.35 L459.99 226.09 L460.02 226.87 L460.05 227.68 L460.08 228.53 L460.10 229.41 L460.13 230.34 L460.15 231.30 L460.18 232.30 L460.20 233.35 L460.22 234.43 L460.25 235.57 L460.27 236.74 L460.29 237.97 L460.31 239.25 L460.33 240.57 L460.35 241.95 L460.36 243.39 L460.38 244.88 L460.40 246.43 L460.41 248.05 L460.43 249.73 L460.44 251.48 L460.45 253.30 L460.47 255.20 L460.48 257.18 L460.49 259.25 L460.50 261.41 L460.51 263.67 L460.52 266.03 L460.53 268.50 L460.54 271.09 L460.54 273.81 L460.55 276.67 L460.56 279.68 L460.56 282.86 L460.57 286.22 L460.57 289.78 L460.58 293.56 L460.58 297.59 L460.58 301.90 L460.59 306.52 L460.59 311.50 L460.59 316.91 L460.59 322.80 L460.59 325.50 M460.61 325.50 L460.61 323.80 L460.61 318.82 L460.61 314.20 L460.62 309.89 L460.62 305.86 L460.62 302.08 L460.63 298.52 L460.63 295.16 L460.63 291.98 L460.64 288.97 L460.65 286.11 L460.65 283.39 L460.66 280.80 L460.66 278.33 L460.67 275.97 L460.68 273.71 L460.69 271.55 L460.70 269.48 L460.71 267.50 L460.72 265.60 L460.73 263.78 L460.74 262.03 L460.75 260.35 L460.76 258.73 L460.78 257.18 L460.79 255.69 L460.80 254.25 L460.82 252.87 L460.83 251.55 L460.85 250.27 L460.87 249.04 L460.88 247.87 L460.90 246.73 L460.92 245.65 L460.94 244.60 L460.96 243.60 L460.98 242.64 L461.00 241.71 L461.02 240.83 L461.04 239.98 L461.06 239.17 L461.08 238.39 L461.11 237.65 L461.13 236.95 L461.16 236.28 L461.18 235.64 L461.20 235.03 L461.23 234.45 L461.26 233.91 L461.28 233.39 L461.31 232.91 L461.34 232.46 L461.36 232.03 L461.39 231.64 L461.42 231.27 L461.45 230.93 L461.48 230.62 L461.50 230.34 L461.53 230.08 L461.56 229.85 L461.59 229.65 L461.62 229.48 L461.65 229.33 L461.68 229.21 L461.71 229.12 L461.74 229.05 L461.77 229.01 L461.80 229.00 L461.83 229.01 L461.86 229.05 L461.89 229.12 L461.92 229.21 L461.95 229.33 L461.98 229.48 L462.01 229.65 L462.04 229.85 L462.07 230.08 L462.10 230.34 L462.12 230.62 L462.15 230.93 L462.18 231.27 L462.21 231.64 L462.24 232.03 L462.26 232.46 L462.29 232.91 L462.32 233.39 L462.34 233.91 L462.37 234.45 L462.40 235.03 L462.42 235.64 L462.44 236.28 L462.47 236.95 L462.49 237.65 L462.52 238.39 L462.54 239.17 L462.56 239.98 L462.58 240.83 L462.60 241.71 L462.62 242.64 L462.64 243.60 L462.66 244.60 L462.68 245.65 L462.70 246.73 L462.72 247.87 L462.73 249.04 L462.75 250.27 L462.77 251.55 L462.78 252.87 L462.80 254.25 L462.81 255.69 L462.82 257.18 L462.84 258.73 L462.85 260.35 L462.86 262.03 L462.87 263.78 L462.88 265.60 L462.89 267.50 L462.90 269.48 L462.91 271.55 L462.92 273.71 L462.93 275.97 L462.94 278.33 L462.94 280.80 L462.95 283.39 L462.95 286.11 L462.96 288.97 L462.97 291.98 L462.97 295.16 L462.97 298.52 L462.98 302.08 L462.98 305.86 L462.98 309.89 L462.99 314.20 L462.99 318.82 L462.99 323.80 L462.99 325.50 M463.01 325.50 L463.01 321.00 L463.01 315.11 L463.01 309.70 L463.02 304.72 L463.02 300.10 L463.02 295.79 L463.03 291.76 L463.03 287.98 L463.04 284.42 L463.05 281.06 L463.05 277.88 L463.06 274.87 L463.07 272.01 L463.08 269.29 L463.09 266.70 L463.10 264.23 L463.11 261.87 L463.12 259.61 L463.14 257.45 L463.15 255.38 L463.16 253.40 L463.18 251.50 L463.20 249.68 L463.21 247.93 L463.23 246.25 L463.25 244.63 L463.27 243.08 L463.29 241.59 L463.31 240.15 L463.34 238.77 L463.36 237.45 L463.38 236.17 L463.41 234.94 L463.44 233.77 L463.46 232.63 L463.49 231.55 L463.52 230.50 L463.55 229.50 L463.58 228.54 L463.61 227.61 L463.64 226.73 L463.68 225.88 L463.71 225.07 L463.75 224.29 L463.78 223.55 L463.82 222.85 L463.86 222.18 L463.89 221.54 L463.93 220.93 L463.97 220.35 L464.01 219.81 L464.05 219.29 L464.09 218.81 L464.13 218.36 L464.18 217.93 L464.22 217.54 L464.26 217.17 L464.31 216.83 L464.35 216.52 L464.39 216.24 L464.44 215.98 L464.48 215.75 L464.53 215.55 L464.57 215.38 L464.62 215.23 L464.67 215.11 L464.71 215.02 L464.76 214.95 L464.80 214.91 L464.85 214.90 L464.90 214.91 L464.94 214.95 L464.99 215.02 L465.03 215.11 L465.08 215.23 L465.13 215.38 L465.17 215.55 L465.22 215.75 L465.26 215.98 L465.31 216.24 L465.35 216.52 L465.39 216.83 L465.44 217.17 L465.48 217.54 L465.52 217.93 L465.57 218.36 L465.61 218.81 L465.65 219.29 L465.69 219.81 L465.73 220.35 L465.77 220.93 L465.81 221.54 L465.84 222.18 L465.88 222.85 L465.92 223.55 L465.95 224.29 L465.99 225.07 L466.02 225.88 L466.06 226.73 L466.09 227.61 L466.12 228.54 L466.15 229.50 L466.18 230.50 L466.21 231.55 L466.24 232.63 L466.26 233.77 L466.29 234.94 L466.32 236.17 L466.34 237.45 L466.36 238.77 L466.39 240.15 L466.41 241.59 L466.43 243.08 L466.45 244.63 L466.47 246.25 L466.49 247.93 L466.50 249.68 L466.52 251.50 L466.54 253.40 L466.55 255.38 L466.56 257.45 L466.58 259.61 L466.59 261.87 L466.60 264.23 L466.61 266.70 L466.62 269.29 L466.63 272.01 L466.64 274.87 L466.65 277.88 L466.65 281.06 L466.66 284.42 L466.67 287.98 L466.67 291.76 L466.68 295.79 L466.68 300.10 L466.68 304.72 L466.69 309.70 L466.69 315.11 L466.69 321.00 L466.69 325.50 M466.71 325.50 L466.71 318.28 L466.71 310.24 L466.72 303.07 L466.72 296.60 L466.73 290.71 L466.73 285.30 L466.74 280.32 L466.75 275.70 L466.76 271.39 L466.77 267.36 L466.79 263.58 L466.80 260.02 L466.82 256.66 L466.84 253.48 L466.86 250.47 L466.88 247.61 L466.90 244.89 L466.93 242.30 L466.96 239.83 L466.99 237.47 L467.02 235.21 L467.05 233.05 L467.09 230.98 L467.13 229.00 L467.17 227.10 L467.21 225.28 L467.25 223.53 L467.30 221.85 L467.35 220.23 L467.40 218.68 L467.46 217.19 L467.51 215.75 L467.57 214.37 L467.63 213.05 L467.70 211.77 L467.76 210.54 L467.83 209.37 L467.90 208.23 L467.97 207.15 L468.05 206.10 L468.13 205.10 L468.21 204.14 L468.29 203.21 L468.37 202.33 L468.46 201.48 L468.55 200.67 L468.64 199.89 L468.73 199.15 L468.82 198.45 L468.92 197.78 L469.02 197.14 L469.12 196.53 L469.22 195.95 L469.32 195.41 L469.43 194.89 L469.53 194.41 L469.64 193.96 L469.75 193.53 L469.86 193.14 L469.97 192.77 L470.09 192.43 L470.20 192.12 L470.32 191.84 L470.43 191.58 L470.55 191.35 L470.67 191.15 L470.78 190.98 L470.90 190.83 L471.02 190.71 L471.14 190.62 L471.26 190.55 L471.38 190.51 L471.50 190.50 L471.62 190.51 L471.74 190.55 L471.86 190.62 L471.98 190.71 L472.10 190.83 L472.22 190.98 L472.33 191.15 L472.45 191.35 L472.57 191.58 L472.68 191.84 L472.80 192.12 L472.91 192.43 L473.03 192.77 L473.14 193.14 L473.25 193.53 L473.36 193.96 L473.47 194.41 L473.57 194.89 L473.68 195.41 L473.78 195.95 L473.88 196.53 L473.98 197.14 L474.08 197.78 L474.18 198.45 L474.27 199.15 L474.36 199.89 L474.45 200.67 L474.54 201.48 L474.63 202.33 L474.71 203.21 L474.79 204.14 L474.87 205.10 L474.95 206.10 L475.03 207.15 L475.10 208.23 L475.17 209.37 L475.24 210.54 L475.30 211.77 L475.37 213.05 L475.43 214.37 L475.49 215.75 L475.54 217.19 L475.60 218.68 L475.65 220.23 L475.70 221.85 L475.75 223.53 L475.79 225.28 L475.83 227.10 L475.87 229.00 L475.91 230.98 L475.95 233.05 L475.98 235.21 L476.01 237.47 L476.04 239.83 L476.07 242.30 L476.10 244.89 L476.12 247.61 L476.14 250.47 L476.16 253.48 L476.18 256.66 L476.20 260.02 L476.21 263.58 L476.23 267.36 L476.24 271.39 L476.25 275.70 L476.26 280.32 L476.27 285.30 L476.27 290.71 L476.28 296.60 L476.28 303.07 L476.29 310.24 L476.29 318.28 L476.29 326.00 M476.31 326.00 L476.31 319.77 L476.31 313.30 L476.31 307.41 L476.32 302.00 L476.32 297.02 L476.32 292.40 L476.33 288.09 L476.34 284.06 L476.34 280.28 L476.35 276.72 L476.36 273.36 L476.37 270.18 L476.38 267.17 L476.39 264.31 L476.40 261.59 L476.41 259.00 L476.42 256.53 L476.44 254.17 L476.45 251.91 L476.47 249.75 L476.49 247.68 L476.50 245.70 L476.52 243.80 L476.54 241.98 L476.57 240.23 L476.59 238.55 L476.61 236.93 L476.64 235.38 L476.66 233.89 L476.69 232.45 L476.72 231.07 L476.75 229.75 L476.78 228.47 L476.81 227.24 L476.84 226.07 L476.88 224.93 L476.91 223.85 L476.95 222.80 L476.98 221.80 L477.02 220.84 L477.06 219.91 L477.10 219.03 L477.14 218.18 L477.18 217.37 L477.23 216.59 L477.27 215.85 L477.32 215.15 L477.36 214.48 L477.41 213.84 L477.46 213.23 L477.51 212.65 L477.56 212.11 L477.61 211.59 L477.66 211.11 L477.71 210.66 L477.76 210.23 L477.81 209.84 L477.87 209.47 L477.92 209.13 L477.98 208.82 L478.03 208.54 L478.09 208.28 L478.14 208.05 L478.20 207.85 L478.26 207.68 L478.31 207.53 L478.37 207.41 L478.43 207.32 L478.49 207.25 L478.54 207.21 L478.60 207.20 L478.66 207.21 L478.71 207.25 L478.77 207.32 L478.83 207.41 L478.89 207.53 L478.94 207.68 L479.00 207.85 L479.06 208.05 L479.11 208.28 L479.17 208.54 L479.22 208.82 L479.28 209.13 L479.33 209.47 L479.39 209.84 L479.44 210.23 L479.49 210.66 L479.54 211.11 L479.59 211.59 L479.64 212.11 L479.69 212.65 L479.74 213.23 L479.79 213.84 L479.84 214.48 L479.88 215.15 L479.93 215.85 L479.97 216.59 L480.02 217.37 L480.06 218.18 L480.10 219.03 L480.14 219.91 L480.18 220.84 L480.22 221.80 L480.25 222.80 L480.29 223.85 L480.32 224.93 L480.36 226.07 L480.39 227.24 L480.42 228.47 L480.45 229.75 L480.48 231.07 L480.51 232.45 L480.54 233.89 L480.56 235.38 L480.59 236.93 L480.61 238.55 L480.63 240.23 L480.66 241.98 L480.68 243.80 L480.70 245.70 L480.71 247.68 L480.73 249.75 L480.75 251.91 L480.76 254.17 L480.78 256.53 L480.79 259.00 L480.80 261.59 L480.81 264.31 L480.82 267.17 L480.83 270.18 L480.84 273.36 L480.85 276.72 L480.86 280.28 L480.86 284.06 L480.87 288.09 L480.88 292.40 L480.88 297.02 L480.88 302.00 L480.89 307.41 L480.89 313.30 L480.89 319.77 L480.89 325.50 M480.91 325.50 L480.91 322.80 L480.91 317.82 L480.92 313.20 L480.92 308.89 L480.92 304.86 L480.93 301.08 L480.93 297.52 L480.94 294.16 L480.94 290.98 L480.95 287.97 L480.96 285.11 L480.96 282.39 L480.97 279.80 L480.98 277.33 L480.99 274.97 L481.00 272.71 L481.01 270.55 L481.02 268.48 L481.03 266.50 L481.05 264.60 L481.06 262.78 L481.07 261.03 L481.09 259.35 L481.10 257.73 L481.12 256.18 L481.14 254.69 L481.15 253.25 L481.17 251.87 L481.19 250.55 L481.21 249.27 L481.23 248.04 L481.25 246.87 L481.28 245.73 L481.30 244.65 L481.32 243.60 L481.35 242.60 L481.37 241.64 L481.40 240.71 L481.42 239.83 L481.45 238.98 L481.48 238.17 L481.51 237.39 L481.53 236.65 L481.56 235.95 L481.59 235.28 L481.62 234.64 L481.66 234.03 L481.69 233.45 L481.72 232.91 L481.75 232.39 L481.79 231.91 L481.82 231.46 L481.85 231.03 L481.89 230.64 L481.92 230.27 L481.96 229.93 L481.99 229.62 L482.03 229.34 L482.07 229.08 L482.10 228.85 L482.14 228.65 L482.18 228.48 L482.21 228.33 L482.25 228.21 L482.29 228.12 L482.33 228.05 L482.36 228.01 L482.40 228.00 L482.44 228.01 L482.47 228.05 L482.51 228.12 L482.55 228.21 L482.59 228.33 L482.62 228.48 L482.66 228.65 L482.70 228.85 L482.73 229.08 L482.77 229.34 L482.81 229.62 L482.84 229.93 L482.88 230.27 L482.91 230.64 L482.95 231.03 L482.98 231.46 L483.01 231.91 L483.05 232.39 L483.08 232.91 L483.11 233.45 L483.14 234.03 L483.18 234.64 L483.21 235.28 L483.24 235.95 L483.27 236.65 L483.29 237.39 L483.32 238.17 L483.35 238.98 L483.38 239.83 L483.40 240.71 L483.43 241.64 L483.45 242.60 L483.48 243.60 L483.50 244.65 L483.52 245.73 L483.55 246.87 L483.57 248.04 L483.59 249.27 L483.61 250.55 L483.63 251.87 L483.65 253.25 L483.66 254.69 L483.68 256.18 L483.70 257.73 L483.71 259.35 L483.73 261.03 L483.74 262.78 L483.75 264.60 L483.77 266.50 L483.78 268.48 L483.79 270.55 L483.80 272.71 L483.81 274.97 L483.82 277.33 L483.83 279.80 L483.84 282.39 L483.84 285.11 L483.85 287.97 L483.86 290.98 L483.86 294.16 L483.87 297.52 L483.87 301.08 L483.88 304.86 L483.88 308.89 L483.88 313.20 L483.89 317.82 L483.89 322.80 L483.89 325.50 M483.91 325.50 L483.91 320.14 L483.91 312.97 L483.91 306.50 L483.92 300.61 L483.92 295.20 L483.93 290.22 L483.94 285.60 L483.94 281.29 L483.95 277.26 L483.96 273.48 L483.97 269.92 L483.99 266.56 L484.00 263.38 L484.01 260.37 L484.03 257.51 L484.05 254.79 L484.07 252.20 L484.08 249.73 L484.11 247.37 L484.13 245.11 L484.15 242.95 L484.18 240.88 L484.21 238.90 L484.24 237.00 L484.27 235.18 L484.30 233.43 L484.33 231.75 L484.37 230.13 L484.41 228.58 L484.44 227.09 L484.48 225.65 L484.53 224.27 L484.57 222.95 L484.62 221.67 L484.66 220.44 L484.71 219.27 L484.76 218.13 L484.82 217.05 L484.87 216.00 L484.93 215.00 L484.98 214.04 L485.04 213.11 L485.10 212.23 L485.16 211.38 L485.23 210.57 L485.29 209.79 L485.36 209.05 L485.43 208.35 L485.50 207.68 L485.57 207.04 L485.64 206.43 L485.71 205.85 L485.79 205.31 L485.86 204.79 L485.94 204.31 L486.01 203.86 L486.09 203.43 L486.17 203.04 L486.25 202.67 L486.33 202.33 L486.42 202.02 L486.50 201.74 L486.58 201.48 L486.67 201.25 L486.75 201.05 L486.83 200.88 L486.92 200.73 L487.01 200.61 L487.09 200.52 L487.18 200.45 L487.26 200.41 L487.35 200.40 L487.44 200.41 L487.52 200.45 L487.61 200.52 L487.69 200.61 L487.78 200.73 L487.87 200.88 L487.95 201.05 L488.03 201.25 L488.12 201.48 L488.20 201.74 L488.28 202.02 L488.37 202.33 L488.45 202.67 L488.53 203.04 L488.61 203.43 L488.69 203.86 L488.76 204.31 L488.84 204.79 L488.91 205.31 L488.99 205.85 L489.06 206.43 L489.13 207.04 L489.20 207.68 L489.27 208.35 L489.34 209.05 L489.41 209.79 L489.47 210.57 L489.54 211.38 L489.60 212.23 L489.66 213.11 L489.72 214.04 L489.77 215.00 L489.83 216.00 L489.88 217.05 L489.94 218.13 L489.99 219.27 L490.04 220.44 L490.08 221.67 L490.13 222.95 L490.17 224.27 L490.22 225.65 L490.26 227.09 L490.29 228.58 L490.33 230.13 L490.37 231.75 L490.40 233.43 L490.43 235.18 L490.46 237.00 L490.49 238.90 L490.52 240.88 L490.55 242.95 L490.57 245.11 L490.59 247.37 L490.62 249.73 L490.63 252.20 L490.65 254.79 L490.67 257.51 L490.69 260.37 L490.70 263.38 L490.71 266.56 L490.73 269.92 L490.74 273.48 L490.75 277.26 L490.76 281.29 L490.76 285.60 L490.77 290.22 L490.78 295.20 L490.78 300.61 L490.79 306.50 L490.79 312.97 L490.79 320.14 L490.79 326.00 M490.81 326.00 L490.81 325.21 L490.81 316.08 L490.81 308.04 L490.82 300.87 L490.82 294.40 L490.83 288.51 L490.83 283.10 L490.84 278.12 L490.85 273.50 L490.86 269.19 L490.88 265.16 L490.89 261.38 L490.91 257.82 L490.92 254.46 L490.94 251.28 L490.96 248.27 L490.99 245.41 L491.01 242.69 L491.04 240.10 L491.07 237.63 L491.10 235.27 L491.13 233.01 L491.17 230.85 L491.20 228.78 L491.24 226.80 L491.29 224.90 L491.33 223.08 L491.38 221.33 L491.43 219.65 L491.48 218.03 L491.53 216.48 L491.59 214.99 L491.65 213.55 L491.71 212.17 L491.77 210.85 L491.84 209.57 L491.91 208.34 L491.98 207.17 L492.05 206.03 L492.13 204.95 L492.21 203.90 L492.29 202.90 L492.37 201.94 L492.45 201.01 L492.54 200.13 L492.63 199.28 L492.72 198.47 L492.82 197.69 L492.91 196.95 L493.01 196.25 L493.11 195.58 L493.21 194.94 L493.32 194.33 L493.42 193.75 L493.53 193.21 L493.64 192.69 L493.75 192.21 L493.86 191.76 L493.98 191.33 L494.09 190.94 L494.21 190.57 L494.33 190.23 L494.45 189.92 L494.57 189.64 L494.69 189.38 L494.81 189.15 L494.93 188.95 L495.05 188.78 L495.18 188.63 L495.30 188.51 L495.43 188.42 L495.55 188.35 L495.68 188.31 L495.80 188.30 L495.92 188.31 L496.05 188.35 L496.17 188.42 L496.30 188.51 L496.42 188.63 L496.55 188.78 L496.67 188.95 L496.79 189.15 L496.91 189.38 L497.03 189.64 L497.15 189.92 L497.27 190.23 L497.39 190.57 L497.51 190.94 L497.62 191.33 L497.74 191.76 L497.85 192.21 L497.96 192.69 L498.07 193.21 L498.18 193.75 L498.28 194.33 L498.39 194.94 L498.49 195.58 L498.59 196.25 L498.69 196.95 L498.78 197.69 L498.88 198.47 L498.97 199.28 L499.06 200.13 L499.15 201.01 L499.23 201.94 L499.31 202.90 L499.39 203.90 L499.47 204.95 L499.55 206.03 L499.62 207.17 L499.69 208.34 L499.76 209.57 L499.83 210.85 L499.89 212.17 L499.95 213.55 L500.01 214.99 L500.07 216.48 L500.12 218.03 L500.17 219.65 L500.22 221.33 L500.27 223.08 L500.31 224.90 L500.36 226.80 L500.40 228.78 L500.43 230.85 L500.47 233.01 L500.50 235.27 L500.53 237.63 L500.56 240.10 L500.59 242.69 L500.61 245.41 L500.64 248.27 L500.66 251.28 L500.68 254.46 L500.69 257.82 L500.71 261.38 L500.72 265.16 L500.74 269.19 L500.75 273.50 L500.76 278.12 L500.77 283.10 L500.77 288.51 L500.78 294.40 L500.78 300.87 L500.79 308.04 L500.79 316.08 L500.79 325.21 L500.79 326.00 M500.81 326.00 L500.81 317.88 L500.81 309.84 L500.82 302.67 L500.82 296.20 L500.83 290.31 L500.84 284.90 L500.85 279.92 L500.86 275.30 L500.87 270.99 L500.88 266.96 L500.90 263.18 L500.91 259.62 L500.93 256.26 L500.95 253.08 L500.97 250.07 L501.00 247.21 L501.02 244.49 L501.05 241.90 L501.08 239.43 L501.11 237.07 L501.15 234.81 L501.18 232.65 L501.22 230.58 L501.26 228.60 L501.31 226.70 L501.35 224.88 L501.40 223.13 L501.45 221.45 L501.51 219.83 L501.56 218.28 L501.62 216.79 L501.68 215.35 L501.74 213.97 L501.81 212.65 L501.88 211.37 L501.95 210.14 L502.03 208.97 L502.10 207.83 L502.18 206.75 L502.26 205.70 L502.35 204.70 L502.43 203.74 L502.52 202.81 L502.61 201.93 L502.71 201.08 L502.80 200.27 L502.90 199.49 L503.00 198.75 L503.10 198.05 L503.21 197.38 L503.31 196.74 L503.42 196.13 L503.53 195.55 L503.64 195.01 L503.76 194.49 L503.87 194.01 L503.99 193.56 L504.11 193.13 L504.23 192.74 L504.35 192.37 L504.47 192.03 L504.59 191.72 L504.72 191.44 L504.84 191.18 L504.97 190.95 L505.10 190.75 L505.22 190.58 L505.35 190.43 L505.48 190.31 L505.61 190.22 L505.74 190.15 L505.87 190.11 L506.00 190.10 L506.13 190.11 L506.26 190.15 L506.39 190.22 L506.52 190.31 L506.65 190.43 L506.78 190.58 L506.90 190.75 L507.03 190.95 L507.16 191.18 L507.28 191.44 L507.41 191.72 L507.53 192.03 L507.65 192.37 L507.77 192.74 L507.89 193.13 L508.01 193.56 L508.13 194.01 L508.24 194.49 L508.36 195.01 L508.47 195.55 L508.58 196.13 L508.69 196.74 L508.79 197.38 L508.90 198.05 L509.00 198.75 L509.10 199.49 L509.20 200.27 L509.29 201.08 L509.39 201.93 L509.48 202.81 L509.57 203.74 L509.65 204.70 L509.74 205.70 L509.82 206.75 L509.90 207.83 L509.97 208.97 L510.05 210.14 L510.12 211.37 L510.19 212.65 L510.26 213.97 L510.32 215.35 L510.38 216.79 L510.44 218.28 L510.49 219.83 L510.55 221.45 L510.60 223.13 L510.65 224.88 L510.69 226.70 L510.74 228.60 L510.78 230.58 L510.82 232.65 L510.85 234.81 L510.89 237.07 L510.92 239.43 L510.95 241.90 L510.98 244.49 L511.00 247.21 L511.03 250.07 L511.05 253.08 L511.07 256.26 L511.09 259.62 L511.10 263.18 L511.12 266.96 L511.13 270.99 L511.14 275.30 L511.15 279.92 L511.16 284.90 L511.17 290.31 L511.18 296.20 L511.18 302.67 L511.19 309.84 L511.19 317.88 L511.19 326.10 M511.21 326.10 L511.21 324.08 L511.21 316.85 L511.21 310.31 L511.21 304.35 L511.22 298.86 L511.22 293.79 L511.23 289.08 L511.24 284.67 L511.24 280.54 L511.25 276.65 L511.26 272.97 L511.27 269.48 L511.28 266.18 L511.29 263.03 L511.30 260.02 L511.32 257.15 L511.33 254.40 L511.35 251.76 L511.37 249.23 L511.39 246.79 L511.41 244.45 L511.43 242.19 L511.45 240.01 L511.48 237.90 L511.50 235.86 L511.53 233.89 L511.56 231.98 L511.59 230.13 L511.62 228.34 L511.66 226.60 L511.69 224.91 L511.73 223.26 L511.77 221.67 L511.81 220.11 L511.86 218.60 L511.90 217.13 L511.95 215.69 L512.00 214.29 L512.05 212.93 L512.10 211.60 L512.16 210.31 L512.22 209.04 L512.28 207.81 L512.34 206.60 L512.40 205.43 L512.47 204.28 L512.54 203.15 L512.61 202.06 L512.68 200.98 L512.76 199.93 L512.84 198.91 L512.92 197.90 L513.00 196.92 L513.08 195.96 L513.17 195.02 L513.26 194.10 L513.35 193.20 L513.45 192.32 L513.54 191.45 L513.64 190.61 L513.75 189.78 L513.85 188.97 L513.96 188.18 L514.06 187.41 L514.18 186.64 L514.29 185.90 L514.41 185.17 L514.53 184.46 L514.65 183.76 L514.77 183.07 L514.90 182.40 L515.03 181.75 L515.16 181.11 L515.29 180.48 L515.43 179.86 L515.57 179.26 L515.71 178.67 L515.85 178.09 L516.00 177.52 L516.14 176.97 L516.29 176.43 L516.45 175.90 L516.60 175.38 L516.76 174.87 L516.92 174.38 L517.08 173.89 L517.25 173.42 L517.41 172.96 L517.58 172.50 L517.75 172.06 L517.93 171.63 L518.10 171.21 L518.28 170.80 L518.46 170.39 L518.64 170.00 L518.82 169.62 L519.01 169.25 L519.20 168.89 L519.39 168.53 L519.58 168.19 L519.77 167.85 L519.97 167.53 L520.17 167.21 L520.36 166.90 L520.57 166.61 L520.77 166.32 L520.97 166.03 L521.18 165.76 L521.39 165.50 L521.59 165.24 L521.81 165.00 L522.02 164.76 L522.23 164.53 L522.45 164.30 L522.66 164.09 L522.88 163.89 L523.10 163.69 L523.32 163.50 L523.54 163.32 L523.76 163.14 L523.99 162.98 L524.21 162.82 L524.44 162.67 L524.66 162.53 L524.89 162.40 L525.12 162.27 L525.35 162.15 L525.58 162.04 L525.81 161.94 L526.04 161.85 L526.27 161.76 L526.51 161.68 L526.74 161.61 L526.97 161.54 L527.21 161.49 L527.44 161.44 L527.67 161.39 L527.91 161.36 L528.14 161.33 L528.38 161.32 L528.61 161.30 L528.85 161.30 L529.09 161.30 L529.32 161.32 L529.56 161.33 L529.79 161.36 L530.03 161.39 L530.26 161.44 L530.49 161.49 L530.73 161.54 L530.96 161.61 L531.19 161.68 L531.43 161.76 L531.66 161.85 L531.89 161.94 L532.12 162.04 L532.35 162.15 L532.58 162.27 L532.81 162.40 L533.04 162.53 L533.26 162.67 L533.49 162.82 L533.71 162.98 L533.94 163.14 L534.16 163.32 L534.38 163.50 L534.60 163.69 L534.82 163.89 L535.04 164.09 L535.25 164.30 L535.47 164.53 L535.68 164.76 L535.89 165.00 L536.11 165.24 L536.31 165.50 L536.52 165.76 L536.73 166.03 L536.93 166.32 L537.13 166.61 L537.34 166.90 L537.53 167.21 L537.73 167.53 L537.93 167.85 L538.12 168.19 L538.31 168.53 L538.50 168.89 L538.69 169.25 L538.88 169.62 L539.06 170.00 L539.24 170.39 L539.42 170.80 L539.60 171.21 L539.77 171.63 L539.95 172.06 L540.12 172.50 L540.29 172.96 L540.45 173.42 L540.62 173.89 L540.78 174.38 L540.94 174.87 L541.10 175.38 L541.25 175.90 L541.41 176.43 L541.56 176.97 L541.70 177.52 L541.85 178.09 L541.99 178.67 L542.13 179.26 L542.27 179.86 L542.41 180.48 L542.54 181.11 L542.67 181.75 L542.80 182.40 L542.93 183.07 L543.05 183.76 L543.17 184.46 L543.29 185.17 L543.41 185.90 L543.52 186.64 L543.64 187.41 L543.74 188.18 L543.85 188.97 L543.95 189.78 L544.06 190.61 L544.16 191.45 L544.25 192.32 L544.35 193.20 L544.44 194.10 L544.53 195.02 L544.62 195.96 L544.70 196.92 L544.78 197.90 L544.86 198.91 L544.94 199.93 L545.02 200.98 L545.09 202.06 L545.16 203.15 L545.23 204.28 L545.30 205.43 L545.36 206.60 L545.42 207.81 L545.48 209.04 L545.54 210.31 L545.60 211.60 L545.65 212.93 L545.70 214.29 L545.75 215.69 L545.80 217.13 L545.84 218.60 L545.89 220.11 L545.93 221.67 L545.97 223.26 L546.01 224.91 L546.04 226.60 L546.08 228.34 L546.11 230.13 L546.14 231.98 L546.17 233.89 L546.20 235.86 L546.22 237.90 L546.25 240.01 L546.27 242.19 L546.29 244.45 L546.31 246.79 L546.33 249.23 L546.35 251.76 L546.37 254.40 L546.38 257.15 L546.40 260.02 L546.41 263.03 L546.42 266.18 L546.43 269.48 L546.44 272.97 L546.45 276.65 L546.46 280.54 L546.46 284.67 L546.47 289.08 L546.48 293.79 L546.48 298.86 L546.49 304.35 L546.49 310.31 L546.49 316.85 L546.49 324.08 L546.49 326.10 M546.51 326.10 L546.51 320.08 L546.51 312.85 L546.51 306.31 L546.52 300.35 L546.52 294.86 L546.53 289.79 L546.53 285.08 L546.54 280.67 L546.55 276.54 L546.56 272.65 L546.57 268.97 L546.58 265.48 L546.59 262.18 L546.61 259.03 L546.62 256.02 L546.64 253.15 L546.65 250.40 L546.67 247.76 L546.69 245.23 L546.72 242.79 L546.74 240.45 L546.77 238.19 L546.79 236.01 L546.82 233.90 L546.85 231.86 L546.88 229.89 L546.92 227.98 L546.96 226.13 L546.99 224.34 L547.03 222.60 L547.08 220.91 L547.12 219.26 L547.17 217.67 L547.22 216.11 L547.27 214.60 L547.32 213.13 L547.38 211.69 L547.43 210.29 L547.49 208.93 L547.56 207.60 L547.62 206.31 L547.69 205.04 L547.76 203.81 L547.83 202.60 L547.91 201.43 L547.98 200.28 L548.06 199.15 L548.15 198.06 L548.23 196.98 L548.32 195.93 L548.41 194.91 L548.50 193.90 L548.60 192.92 L548.70 191.96 L548.80 191.02 L548.91 190.10 L549.01 189.20 L549.12 188.32 L549.24 187.45 L549.35 186.61 L549.47 185.78 L549.59 184.97 L549.72 184.18 L549.84 183.41 L549.97 182.64 L550.11 181.90 L550.24 181.17 L550.38 180.46 L550.52 179.76 L550.67 179.07 L550.82 178.40 L550.97 177.75 L551.12 177.11 L551.27 176.48 L551.43 175.86 L551.59 175.26 L551.76 174.67 L551.93 174.09 L552.10 173.52 L552.27 172.97 L552.45 172.43 L552.62 171.90 L552.80 171.38 L552.99 170.87 L553.18 170.38 L553.36 169.89 L553.56 169.42 L553.75 168.96 L553.95 168.50 L554.15 168.06 L554.35 167.63 L554.55 167.21 L554.76 166.80 L554.97 166.39 L555.18 166.00 L555.40 165.62 L555.62 165.25 L555.83 164.89 L556.06 164.53 L556.28 164.19 L556.51 163.85 L556.73 163.53 L556.96 163.21 L557.20 162.90 L557.43 162.61 L557.67 162.32 L557.91 162.03 L558.15 161.76 L558.39 161.50 L558.63 161.24 L558.88 161.00 L559.13 160.76 L559.38 160.53 L559.63 160.30 L559.88 160.09 L560.13 159.89 L560.39 159.69 L560.65 159.50 L560.90 159.32 L561.16 159.14 L561.42 158.98 L561.69 158.82 L561.95 158.67 L562.21 158.53 L562.48 158.40 L562.75 158.27 L563.01 158.15 L563.28 158.04 L563.55 157.94 L563.82 157.85 L564.09 157.76 L564.36 157.68 L564.64 157.61 L564.91 157.54 L565.18 157.49 L565.45 157.44 L565.73 157.39 L566.00 157.36 L566.28 157.33 L566.55 157.32 L566.83 157.30 L567.10 157.30 L567.37 157.30 L567.65 157.32 L567.92 157.33 L568.20 157.36 L568.47 157.39 L568.75 157.44 L569.02 157.49 L569.29 157.54 L569.56 157.61 L569.84 157.68 L570.11 157.76 L570.38 157.85 L570.65 157.94 L570.92 158.04 L571.19 158.15 L571.45 158.27 L571.72 158.40 L571.99 158.53 L572.25 158.67 L572.51 158.82 L572.78 158.98 L573.04 159.14 L573.30 159.32 L573.55 159.50 L573.81 159.69 L574.07 159.89 L574.32 160.09 L574.57 160.30 L574.82 160.53 L575.07 160.76 L575.32 161.00 L575.57 161.24 L575.81 161.50 L576.05 161.76 L576.29 162.03 L576.53 162.32 L576.77 162.61 L577.00 162.90 L577.24 163.21 L577.47 163.53 L577.69 163.85 L577.92 164.19 L578.14 164.53 L578.37 164.89 L578.58 165.25 L578.80 165.62 L579.02 166.00 L579.23 166.39 L579.44 166.80 L579.65 167.21 L579.85 167.63 L580.05 168.06 L580.25 168.50 L580.45 168.96" fill="none" stroke="#000" stroke-width="1.25" stroke-linejoin="round"/>
<path d="M63.63 117.68 L64.71 118.89 L65.75 120.14 L66.74 121.42 L67.68 122.73 L68.58 124.06 L69.45 125.43 L70.27 126.82 L71.06 128.27 L71.81 129.77 L72.53 131.31 L73.22 132.88 L73.88 134.47 L74.51 136.04 L75.11 137.60 L75.68 139.13 L76.23 140.68 L76.76 142.24 L77.26 143.80 L77.74 145.36 L78.20 146.92 L78.63 148.45 L79.05 149.97 L79.45 151.45 L79.83 152.90 L80.20 154.31 L80.55 155.68 L80.88 157.04 L81.20 158.37 L81.51 159.70 L81.80 161.00 L82.08 162.29 L82.34 163.56 L82.60 164.82 L82.84 166.05 L83.07 167.27 L83.30 168.46 L83.51 169.64 L83.71 170.79 L83.91 171.93 L84.09 173.04 L84.27 174.12 L84.44 175.18 L84.60 176.20 L84.75 177.20 L84.90 178.18 L85.04 179.14 L85.18 180.09 L85.31 181.02 L85.43 181.95 L85.55 182.87 L85.66 183.79 L85.77 184.71 L85.87 185.64 L85.97 186.58 L86.07 187.53 L86.16 188.50 L86.24 189.48 L86.32 190.47 L86.40 191.46 L86.48 192.45 L86.55 193.44 L86.62 194.43 L86.68 195.43 L86.75 196.42 L86.81 197.41 L86.86 198.40 L86.92 199.40 L86.97 200.39 L87.02 201.38 L87.07 202.38 L87.11 203.37 L87.16 204.37 L87.20 205.37 L87.24 206.36 L87.28 207.36 L87.31 208.36 L87.35 209.36 L87.38 210.36 L87.41 211.36 L87.44 212.36 L87.47 213.36 L87.50 214.36 L87.53 215.36 L87.55 216.36 L87.58 217.37 L87.60 218.37 L87.62 219.37 L87.64 220.38 L87.66 221.38 L87.68 222.39 L87.70 223.40 L87.72 224.40 L87.74 225.41 L87.75 226.42 L87.77 227.43 L87.78 228.44 L87.80 229.45 L87.81 230.46 L87.82 231.47 L87.83 232.49 L87.85 233.50 L87.86 234.51 L87.87 235.53 L87.88 236.54 L87.89 237.56 L87.90 238.58 L87.91 239.59 L87.91 240.61 L87.92 241.63 L87.93 242.65 L87.94 243.67 L87.95 244.69 L87.95 245.71 L87.96 246.74 L87.97 247.76 L87.97 248.78 L87.98 249.81 L87.98 250.83 L87.99 251.86 L87.99 252.89 L88.00 253.92 L88.00 254.94 L88.01 255.97 L88.01 257.00 L88.01 258.04 L88.02 259.07 L88.02 260.10 L88.03 261.13 L88.03 262.17 L88.03 263.20 L88.03 264.24 L88.04 265.28 L88.04 266.32 L88.04 267.35 L88.05 268.39 L88.05 269.44 L88.05 270.48 L88.05 271.52 L88.05 272.56 L88.06 273.61 L88.06 274.65 L88.06 275.70 L88.06 276.74 L88.06 277.79 L88.07 278.84 L88.07 279.89 L88.07 280.94 L88.07 281.99 L88.07 283.05 L88.07 284.10 L88.07 285.15 L88.07 286.21 L88.08 287.27 L88.08 288.32 L88.08 289.38 L88.08 290.44 L88.08 291.50 L88.08 292.56 L88.08 293.62 L88.08 294.69 L88.08 295.75 L88.08 296.82 L88.08 297.88 L88.09 298.95 L88.09 300.02 L88.09 301.09 L88.09 302.16 L88.09 303.23 L88.09 304.30 L88.09 305.38 L88.09 306.45 L88.09 307.53 L88.09 308.61 L88.09 309.68 L88.09 310.76 L88.09 311.84 L88.09 312.93 L88.09 314.01 L88.09 315.09 L88.09 316.18 L88.09 317.26 L88.09 318.35 L88.09 319.44 L88.09 320.53 L88.09 321.62 L88.09 322.71 L88.09 323.80 L88.10 324.90 L88.10 325.99 L88.10 327.09 L88.10 327.80 M88.11 327.80 L88.11 321.41 L88.11 314.85 L88.11 308.86 L88.12 303.35 L88.12 298.25 L88.12 293.51 L88.13 289.07 L88.13 284.90 L88.14 280.97 L88.15 277.26 L88.16 273.73 L88.16 270.38 L88.17 267.19 L88.18 264.14 L88.20 261.22 L88.21 258.42 L88.22 255.73 L88.24 253.14 L88.25 250.65 L88.27 248.24 L88.29 245.92 L88.31 243.68 L88.33 241.50 L88.35 239.40 L88.37 237.36 L88.40 235.38 L88.42 233.45 L88.45 231.58 L88.48 229.77 L88.51 227.99 L88.54 226.27 L88.58 224.59 L88.61 222.95 L88.65 221.34 L88.69 219.78 L88.73 218.25 L88.77 216.76 L88.82 215.30 L88.86 213.87 L88.91 212.48 L88.96 211.11 L89.01 209.77 L89.07 208.45 L89.12 207.17 L89.18 205.90 L89.24 204.66 L89.31 203.45 L89.37 202.26 L89.44 201.08 L89.51 199.93 L89.58 198.80 L89.66 197.69 L89.73 196.60 L89.81 195.53 L89.90 194.47 L89.98 193.44 L90.07 192.42 L90.16 191.41 L90.25 190.42 L90.34 189.45 L90.44 188.49 L90.54 187.54 L90.64 186.61 L90.75 185.70 L90.86 184.80 L90.97 183.91 L91.09 183.03 L91.20 182.16 L91.32 181.31 L91.45 180.47 L91.57 179.64 L91.70 178.82 L91.84 178.02 L91.97 177.22 L92.11 176.43 L92.25 175.66 L92.40 174.89 L92.55 174.14 L92.70 173.39 L92.85 172.65 L93.01 171.92 L93.17 171.21 L93.34 170.50 L93.51 169.79 L93.68 169.10 L93.86 168.42 L94.03 167.74 L94.22 167.07 L94.40 166.41 L94.59 165.76 L94.79 165.11 L94.98 164.47 L95.18 163.84 L95.39 163.22 L95.60 162.60 L95.81 161.99 L96.02 161.39 L96.24 160.79 L96.47 160.20 L96.69 159.62 L96.92 159.04 L97.16 158.47 L97.40 157.90 L97.64 157.34 L97.89 156.79 L98.14 156.24 L98.39 155.70 L98.65 155.17 L98.91 154.63 L99.18 154.11 L99.45 153.59 L99.73 153.07 L100.00 152.56 L100.29 152.06 L100.57 151.56 L100.87 151.07 L101.16 150.58 L101.46 150.09 L101.77 149.61 L102.07 149.14 L102.39 148.67 L102.70 148.20 L103.02 147.74 L103.35 147.28 L103.68 146.83 L104.01 146.38 L104.35 145.94 L104.69 145.50 L105.04 145.06 L105.39 144.63 L105.75 144.20 L106.11 143.78 L106.47 143.36 L106.84 142.94 L107.22 142.53 L107.60 142.12 L107.98 141.72 L108.37 141.32 L108.76 140.92 L109.15 140.53 L109.56 140.14 L109.96 139.75 L110.37 139.37 L110.78 138.99 L111.20 138.62 L111.63 138.25 L112.06 137.88 L112.49 137.51 L112.93 137.15 L113.37 136.79 L113.81 136.44 L114.27 136.08 L114.72 135.73 L115.18 135.39 L115.65 135.05 L116.12 134.71 L116.59 134.37 L117.07 134.04 L117.55 133.71 L118.04 133.38 L118.53 133.05 L119.03 132.73 L119.53 132.41 L120.04 132.10 L120.55 131.78 L121.07 131.47 L121.59 131.16 L122.11 130.86 L122.64 130.56 L123.18 130.26 L123.72 129.96 L124.26 129.67 L124.81 129.37 L125.36 129.09 L125.92 128.80 L126.48 128.52 L127.05 128.23 L127.62 127.96 L128.20 127.68 L128.78 127.41 L129.37 127.13 L129.96 126.86 L130.55 126.60 L131.15 126.33 L131.76 126.07 L132.36 125.81 L132.98 125.56 L133.60 125.30 L134.22 125.05 L134.84 124.80 L135.48 124.55 L136.11 124.31 L136.75 124.06 L137.40 123.82 L138.05 123.58 L138.70 123.35 L139.36 123.11 L140.02 122.88 L140.69 122.65 L141.36 122.42 L142.04 122.20 L142.72 121.97 L143.41 121.75 L144.10 121.53 L144.79 121.32 L145.49 121.10 L146.19 120.89 L146.90 120.68 L147.61 120.47 L148.32 120.26 L149.04 120.06 L149.77 119.85 L150.50 119.65 L151.23 119.45 L151.97 119.26 L152.71 119.06 L153.45 118.87 L154.20 118.68 L154.96 118.49 L155.72 118.30 L156.48 118.11 L157.24 117.93 L158.01 117.75 L158.79 117.57 L159.57 117.39 L160.35 117.21 L161.14 117.04 L161.93 116.87 L162.72 116.69 L163.52 116.53 L164.32 116.36 L165.13 116.19 L165.94 116.03 L166.75 115.87 L167.57 115.71 L168.39 115.55 L169.21 115.39 L170.04 115.24 L170.87 115.08 L171.71 114.93 L172.55 114.78 L173.39 114.64 L174.24 114.49 L175.09 114.34 L175.95 114.20 L176.80 114.06 L177.67 113.92 L178.53 113.78 L179.40 113.65 L180.27 113.51 L181.14 113.38 L182.02 113.25 L182.90 113.12 L183.79 112.99 L184.68 112.86 L185.57 112.74 L186.46 112.62 L187.36 112.49 L188.26 112.37 L189.17 112.26 L190.07 112.14 L190.99 112.02 L191.90 111.91 L192.82 111.80 L193.73 111.69 L194.66 111.58 L195.58 111.47 L196.51 111.36 L197.44 111.26 L198.37 111.16 L199.31 111.06 L200.25 110.96 L201.19 110.86 L202.14 110.76 L203.08 110.67 L204.03 110.57 L204.99 110.48 L205.94 110.39 L206.90 110.30 L207.86 110.21 L208.82 110.13 L209.79 110.04 L210.75 109.96 L211.72 109.88 L212.69 109.80 L213.67 109.72 L214.64 109.64 L215.62 109.57 L216.60 109.49 L217.58 109.42 L218.57 109.35 L219.56 109.28 L220.54 109.21 L221.53 109.14 L222.53 109.08 L223.52 109.01 L224.52 108.95 L225.51 108.89 L226.51 108.83 L227.52 108.77 L228.52 108.72 L229.52 108.66 L230.53 108.61 L231.54 108.55 L232.55 108.50 L233.56 108.45 L234.57 108.41 L235.58 108.36 L236.60 108.31 L237.61 108.27 L238.63 108.23 L239.65 108.19 L240.67 108.15 L241.69 108.11 L242.71 108.07 L243.74 108.03 L244.76 108.00 L245.79 107.97 L246.81 107.94 L247.84 107.91 L248.87 107.88 L249.90 107.85 L250.93 107.82 L251.96 107.80 L252.99 107.78 L254.02 107.76 L255.05 107.74 L256.09 107.72 L257.12 107.70 L258.15 107.68 L259.19 107.67 L260.22 107.66 L261.26 107.64 L262.29 107.63 L263.33 107.62 L264.37 107.62 L265.40 107.61 L266.44 107.61 L267.48 107.60 L268.51 107.60 L269.55 107.60 L270.59 107.60 L271.62 107.60 L272.66 107.61 L273.70 107.61 L274.73 107.62 L275.77 107.62 L276.81 107.63 L277.84 107.64 L278.88 107.66 L279.91 107.67 L280.95 107.68 L281.98 107.70 L283.01 107.72 L284.05 107.74 L285.08 107.76 L286.11 107.78 L287.14 107.80 L288.17 107.82 L289.20 107.85 L290.23 107.88 L291.26 107.91 L292.29 107.94 L293.31 107.97 L294.34 108.00 L295.36 108.03 L296.39 108.07 L297.41 108.11 L298.43 108.15 L299.45 108.19 L300.47 108.23 L301.49 108.27 L302.50 108.31 L303.52 108.36 L304.53 108.41 L305.54 108.45 L306.55 108.50 L307.56 108.55 L308.57 108.61 L309.58 108.66 L310.58 108.72 L311.58 108.77 L312.59 108.83 L313.59 108.89 L314.58 108.95 L315.58 109.01 L316.57 109.08 L317.57 109.14 L318.56 109.21 L319.54 109.28 L320.53 109.35 L321.52 109.42 L322.50 109.49 L323.48 109.57 L324.46 109.64 L325.43 109.72 L326.41 109.80 L327.38 109.88 L328.35 109.96 L329.31 110.04 L330.28 110.13 L331.24 110.21 L332.20 110.30 L333.16 110.39 L334.11 110.48 L335.07 110.57 L336.02 110.67 L336.96 110.76 L337.91 110.86 L338.85 110.96 L339.79 111.06 L340.73 111.16 L341.66 111.26 L342.59 111.36 L343.52 111.47 L344.44 111.58 L345.37 111.69 L346.28 111.80 L347.20 111.91 L348.11 112.02 L349.03 112.14 L349.93 112.26 L350.84 112.37 L351.74 112.49 L352.64 112.62 L353.53 112.74 L354.42 112.86 L355.31 112.99 L356.20 113.12 L357.08 113.25 L357.96 113.38 L358.83 113.51 L359.70 113.65 L360.57 113.78 L361.43 113.92 L362.30 114.06 L363.15 114.20 L364.01 114.34 L364.86 114.49 L365.71 114.64 L366.55 114.78 L367.39 114.93 L368.23 115.08 L369.06 115.24 L369.89 115.39 L370.71 115.55 L371.53 115.71 L372.35 115.87 L373.16 116.03 L373.97 116.19 L374.78 116.36 L375.58 116.53 L376.38 116.69 L377.17 116.87 L377.96 117.04 L378.75 117.21 L379.53 117.39 L380.31 117.57 L381.09 117.75 L381.86 117.93 L382.62 118.11 L383.38 118.30 L384.14 118.49 L384.90 118.68 L385.65 118.87 L386.39 119.06 L387.13 119.26 L387.87 119.45 L388.60 119.65 L389.33 119.85 L390.06 120.06 L390.78 120.26 L391.49 120.47 L392.20 120.68 L392.91 120.89 L393.61 121.10 L394.31 121.32 L395.00 121.53 L395.69 121.75 L396.38 121.97 L397.06 122.20 L397.74 122.42 L398.41 122.65 L399.08 122.88 L399.74 123.11 L400.40 123.35 L401.05 123.58 L401.70 123.82 L402.35 124.06 L402.99 124.31 L403.62 124.55 L404.26 124.80 L404.88 125.05 L405.50 125.30 L406.12 125.56 L406.74 125.81 L407.34 126.07 L407.95 126.33 L408.55 126.60 L409.14 126.86 L409.73 127.13 L410.32 127.41 L410.90 127.68 L411.48 127.96 L412.05 128.23 L412.62 128.52 L413.18 128.80 L413.74 129.09 L414.29 129.37 L414.84 129.67 L415.38 129.96 L415.92 130.26 L416.46 130.56 L416.99 130.86 L417.51 131.16 L418.03 131.47 L418.55 131.78 L419.06 132.10 L419.57 132.41 L420.07 132.73 L420.57 133.05 L421.06 133.38 L421.55 133.71 L422.03 134.04 L422.51 134.37 L422.98 134.71 L423.45 135.05 L423.92 135.39 L424.38 135.73 L424.83 136.08 L425.29 136.44 L425.73 136.79 L426.17 137.15 L426.61 137.51 L427.04 137.88 L427.47 138.25 L427.90 138.62 L428.32 138.99 L428.73 139.37 L429.14 139.75 L429.54 140.14 L429.95 140.53 L430.34 140.92 L430.73 141.32 L431.12 141.72 L431.50 142.12 L431.88 142.53 L432.26 142.94 L432.63 143.36 L432.99 143.78 L433.35 144.20 L433.71 144.63 L434.06 145.06 L434.41 145.50 L434.75 145.94 L435.09 146.38 L435.42 146.83 L435.75 147.28 L436.08 147.74 L436.40 148.20 L436.71 148.67 L437.03 149.14 L437.33 149.61 L437.64 150.09 L437.94 150.58 L438.23 151.07 L438.53 151.56 L438.81 152.06 L439.10 152.56 L439.37 153.07 L439.65 153.59 L439.92 154.11 L440.19 154.63 L440.45 155.17 L440.71 155.70 L440.96 156.24 L441.21 156.79 L441.46 157.34 L441.70 157.90 L441.94 158.47 L442.18 159.04 L442.41 159.62 L442.63 160.20 L442.86 160.79 L443.08 161.39 L443.29 161.99 L443.50 162.60 L443.71 163.22 L443.92 163.84 L444.12 164.47 L444.31 165.11 L444.51 165.76 L444.70 166.41 L444.88 167.07 L445.07 167.74 L445.24 168.42 L445.42 169.10 L445.59 169.79 L445.76 170.50 L445.93 171.21 L446.09 171.92 L446.25 172.65 L446.40 173.39 L446.55 174.14 L446.70 174.89 L446.85 175.66 L446.99 176.43 L447.13 177.22 L447.26 178.02 L447.40 178.82 L447.53 179.64 L447.65 180.47 L447.78 181.31 L447.90 182.16 L448.01 183.03 L448.13 183.91 L448.24 184.80 L448.35 185.70 L448.46 186.61 L448.56 187.54 L448.66 188.49 L448.76 189.45 L448.85 190.42 L448.94 191.41 L449.03 192.42 L449.12 193.44 L449.20 194.47 L449.29 195.53 L449.37 196.60 L449.44 197.69 L449.52 198.80 L449.59 199.93 L449.66 201.08 L449.73 202.26 L449.79 203.45 L449.86 204.66 L449.92 205.90 L449.98 207.17 L450.03 208.45 L450.09 209.77 L450.14 211.11 L450.19 212.48 L450.24 213.87 L450.28 215.30 L450.33 216.76 L450.37 218.25 L450.41 219.78 L450.45 221.34 L450.49 222.95 L450.52 224.59 L450.56 226.27 L450.59 227.99 L450.62 229.77 L450.65 231.58 L450.68 233.45 L450.70 235.38 L450.73 237.36 L450.75 239.40 L450.77 241.50 L450.79 243.68 L450.81 245.92 L450.83 248.24 L450.85 250.65 L450.86 253.14 L450.88 255.73 L450.89 258.42 L450.90 261.22 L450.92 264.14 L450.93 267.19 L450.94 270.38 L450.94 273.73 L450.95 277.26 L450.96 280.97 L450.97 284.90 L450.97 289.07 L450.98 293.51 L450.98 298.25 L450.98 303.35 L450.99 308.86 L450.99 314.85 L450.99 321.41 L450.99 325.50 M451.01 325.50 L451.01 321.24 L451.01 314.07 L451.01 307.60 L451.02 301.71 L451.02 296.30 L451.03 291.32 L451.03 286.70 L451.04 282.39 L451.04 278.36 L451.05 274.58 L451.06 271.02 L451.07 267.66 L451.08 264.48 L451.10 261.47 L451.11 258.61 L451.12 255.89 L451.14 253.30 L451.16 250.83 L451.17 248.47 L451.19 246.21 L451.21 244.05 L451.23 241.98 L451.26 240.00 L451.28 238.10 L451.31 236.28 L451.33 234.53 L451.36 232.85 L451.39 231.23 L451.42 229.68 L451.46 228.19 L451.49 226.75 L451.53 225.37 L451.56 224.05 L451.60 222.77 L451.64 221.54 L451.68 220.37 L451.73 219.23 L451.77 218.15 L451.82 217.10 L451.86 216.10 L451.91 215.14 L451.96 214.21 L452.01 213.33 L452.06 212.48 L452.12 211.67 L452.17 210.89 L452.23 210.15 L452.28 209.45 L452.34 208.78 L452.40 208.14 L452.46 207.53 L452.52 206.95 L452.58 206.41 L452.65 205.89 L452.71 205.41 L452.78 204.96 L452.84 204.53 L452.91 204.14 L452.98 203.77 L453.05 203.43 L453.11 203.12 L453.18 202.84 L453.25 202.58 L453.32 202.35 L453.40 202.15 L453.47 201.98 L453.54 201.83 L453.61 201.71 L453.68 201.62 L453.76 201.55 L453.83 201.51 L453.90 201.50 L453.97 201.51 L454.04 201.55 L454.12 201.62 L454.19 201.71 L454.26 201.83 L454.33 201.98 L454.40 202.15 L454.48 202.35 L454.55 202.58 L454.62 202.84 L454.69 203.12 L454.75 203.43 L454.82 203.77 L454.89 204.14 L454.96 204.53 L455.02 204.96 L455.09 205.41 L455.15 205.89 L455.22 206.41 L455.28 206.95 L455.34 207.53 L455.40 208.14 L455.46 208.78 L455.52 209.45 L455.57 210.15 L455.63 210.89 L455.68 211.67 L455.74 212.48 L455.79 213.33 L455.84 214.21 L455.89 215.14 L455.94 216.10 L455.98 217.10 L456.03 218.15 L456.07 219.23 L456.12 220.37 L456.16 221.54 L456.20 222.77 L456.24 224.05 L456.27 225.37 L456.31 226.75 L456.34 228.19 L456.38 229.68 L456.41 231.23 L456.44 232.85 L456.47 234.53 L456.49 236.28 L456.52 238.10 L456.54 240.00 L456.57 241.98 L456.59 244.05 L456.61 246.21 L456.63 248.47 L456.64 250.83 L456.66 253.30 L456.68 255.89 L456.69 258.61 L456.70 261.47 L456.72 264.48 L456.73 267.66 L456.74 271.02 L456.75 274.58 L456.76 278.36 L456.76 282.39 L456.77 286.70 L456.77 291.32 L456.78 296.30 L456.78 301.71 L456.79 307.60 L456.79 314.07 L456.79 321.24 L456.79 325.50 M456.80 325.50 L456.80 306.08 L456.81 287.15 L456.82 272.93 L456.83 261.79 L456.84 252.86 L456.86 245.64 L456.88 239.79 L456.91 235.10 L456.94 231.42 L456.97 228.65 L457.01 226.71 L457.04 225.57 L457.08 225.19 L457.12 225.57 L457.16 226.71 L457.19 228.65 L457.22 231.42 L457.25 235.10 L457.28 239.79 L457.30 245.64 L457.32 252.86 L457.34 261.79 L457.35 272.93 L457.35 287.15 L457.36 306.08 L457.36 325.50 M457.36 325.50 L457.37 307.61 L457.37 288.68 L457.38 274.46 L457.39 263.32 L457.40 254.40 L457.42 247.17 L457.45 241.32 L457.47 236.63 L457.50 232.95 L457.53 230.18 L457.57 228.24 L457.61 227.10 L457.64 226.72 L457.68 227.10 L457.72 228.24 L457.75 230.18 L457.79 232.95 L457.82 236.63 L457.84 241.32 L457.86 247.17 L457.88 254.40 L457.90 263.32 L457.91 274.46 L457.92 288.68 L457.92 307.61 L457.92 325.50 M457.93 325.50 L457.93 306.74 L457.93 287.81 L457.94 273.59 L457.95 262.45 L457.97 253.52 L457.99 246.30 L458.01 240.45 L458.03 235.76 L458.06 232.08 L458.10 229.31 L458.13 227.37 L458.17 226.23 L458.21 225.85 L458.24 226.23 L458.28 227.37 L458.32 229.31 L458.35 232.08 L458.38 235.76 L458.40 240.45 L458.43 246.30 L458.45 253.52 L458.46 262.45 L458.47 273.59 L458.48 287.81 L458.48 306.74 L458.49 325.50 M458.49 325.50 L458.49 307.91 L458.50 288.98 L458.50 274.76 L458.51 263.62 L458.53 254.69 L458.55 247.47 L458.57 241.62 L458.60 236.93 L458.63 233.25 L458.66 230.48 L458.69 228.54 L458.73 227.40 L458.77 227.02 L458.81 227.40 L458.84 228.54 L458.88 230.48 L458.91 233.25 L458.94 236.93 L458.97 241.62 L458.99 247.47 L459.01 254.69 L459.02 263.62 L459.03 274.76 L459.04 288.98 L459.05 307.91 L459.05 325.50 M459.05 325.50 L459.05 308.02 L459.06 289.09 L459.07 274.87 L459.08 263.73 L459.09 254.80 L459.11 247.58 L459.13 241.73 L459.16 237.04 L459.19 233.36 L459.22 230.59 L459.26 228.65 L459.29 227.51 L459.33 227.13 L459.37 227.51 L459.41 228.65 L459.44 230.59 L459.47 233.36 L459.50 237.04 L459.53 241.73 L459.55 247.58 L459.57 254.80 L459.59 263.73 L459.60 274.87 L459.60 289.09 L459.61 308.02 L459.61 325.50 M459.61 325.50 L459.62 305.22 L459.62 286.29 L459.63 272.07 L459.64 260.93 L459.65 252.00 L459.67 244.78 L459.70 238.93 L459.72 234.24 L459.75 230.56 L459.78 227.78 L459.82 225.85 L459.86 224.71 L459.89 224.33 L459.93 224.71 L459.97 225.85 L460.00 227.78 L460.04 230.56 L460.07 234.24 L460.09 238.93 L460.11 244.78 L460.13 252.00 L460.15 260.93 L460.16 272.07 L460.17 286.29 L460.17 305.22 L460.17 325.50 M460.18 325.50 L460.18 304.95 L460.18 286.03 L460.19 271.81 L460.20 260.67 L460.22 251.74 L460.24 244.51 L460.26 238.66 L460.28 233.97 L460.31 230.29 L460.35 227.52 L460.38 225.59 L460.42 224.44 L460.46 224.07 L460.49 224.44 L460.53 225.59 L460.57 227.52 L460.60 230.29 L460.63 233.97 L460.65 238.66 L460.68 244.51 L460.70 251.74 L460.71 260.67 L460.72 271.81 L460.73 286.03 L460.73 304.95 L460.74 325.50 M460.74 325.50 L460.74 309.08 L460.75 290.15 L460.75 275.93 L460.76 264.79 L460.78 255.86 L460.80 248.64 L460.82 242.79 L460.85 238.09 L460.88 234.42 L460.91 231.64 L460.94 229.71 L460.98 228.57 L461.02 228.19 L461.06 228.57 L461.09 229.71 L461.13 231.64 L461.16 234.42 L461.19 238.09 L461.22 242.79 L461.24 248.64 L461.26 255.86 L461.27 264.79 L461.28 275.93 L461.29 290.15 L461.30 309.08 L461.30 325.50 M461.31 325.50 L461.31 324.97 L461.31 318.50 L461.31 312.61 L461.31 307.20 L461.31 302.22 L461.32 297.60 L461.32 293.29 L461.33 289.26 L461.33 285.48 L461.34 281.92 L461.34 278.56 L461.35 275.38 L461.36 272.37 L461.36 269.51 L461.37 266.79 L461.38 264.20 L461.39 261.73 L461.40 259.37 L461.41 257.11 L461.42 254.95 L461.44 252.88 L461.45 250.90 L461.47 249.00 L461.48 247.18 L461.50 245.43 L461.51 243.75 L461.53 242.13 L461.55 240.58 L461.57 239.09 L461.59 237.65 L461.61 236.27 L461.63 234.95 L461.65 233.67 L461.68 232.44 L461.70 231.27 L461.73 230.13 L461.75 229.05 L461.78 228.00 L461.81 227.00 L461.83 226.04 L461.86 225.11 L461.89 224.23 L461.92 223.38 L461.95 222.57 L461.99 221.79 L462.02 221.05 L462.05 220.35 L462.09 219.68 L462.12 219.04 L462.16 218.43 L462.19 217.85 L462.23 217.31 L462.27 216.79 L462.30 216.31 L462.34 215.86 L462.38 215.43 L462.42 215.04 L462.46 214.67 L462.50 214.33 L462.54 214.02 L462.58 213.74 L462.62 213.48 L462.66 213.25 L462.70 213.05 L462.75 212.88 L462.79 212.73 L462.83 212.61 L462.87 212.52 L462.92 212.45 L462.96 212.41 L463.00 212.40 L463.04 212.41 L463.08 212.45 L463.13 212.52 L463.17 212.61 L463.21 212.73 L463.25 212.88 L463.30 213.05 L463.34 213.25 L463.38 213.48 L463.42 213.74 L463.46 214.02 L463.50 214.33 L463.54 214.67 L463.58 215.04 L463.62 215.43 L463.66 215.86 L463.70 216.31 L463.73 216.79 L463.77 217.31 L463.81 217.85 L463.84 218.43 L463.88 219.04 L463.91 219.68 L463.95 220.35 L463.98 221.05 L464.01 221.79 L464.05 222.57 L464.08 223.38 L464.11 224.23 L464.14 225.11 L464.17 226.04 L464.19 227.00 L464.22 228.00 L464.25 229.05 L464.27 230.13 L464.30 231.27 L464.32 232.44 L464.35 233.67 L464.37 234.95 L464.39 236.27 L464.41 237.65 L464.43 239.09 L464.45 240.58 L464.47 242.13 L464.49 243.75 L464.50 245.43 L464.52 247.18 L464.53 249.00 L464.55 250.90 L464.56 252.88 L464.58 254.95 L464.59 257.11 L464.60 259.37 L464.61 261.73 L464.62 264.20 L464.63 266.79 L464.64 269.51 L464.64 272.37 L464.65 275.38 L464.66 278.56 L464.66 281.92 L464.67 285.48 L464.67 289.26 L464.68 293.29 L464.68 297.60 L464.69 302.22 L464.69 307.20 L464.69 312.61 L464.69 318.50 L464.69 324.97 L464.69 325.50 M464.70 325.50 L464.70 307.19 L464.71 288.26 L464.72 274.04 L464.73 262.90 L464.74 253.97 L464.76 246.74 L464.79 240.89 L464.81 236.20 L464.84 232.52 L464.88 229.75 L464.91 227.82 L464.95 226.68 L464.99 226.30 L465.03 226.68 L465.06 227.82 L465.10 229.75 L465.13 232.52 L465.16 236.20 L465.19 240.89 L465.21 246.74 L465.23 253.97 L465.25 262.90 L465.26 274.04 L465.27 288.26 L465.27 307.19 L465.27 325.50 M465.28 325.50 L465.28 307.06 L465.28 288.13 L465.29 273.92 L465.30 262.77 L465.32 253.85 L465.34 246.62 L465.36 240.77 L465.39 236.08 L465.42 232.40 L465.45 229.63 L465.49 227.69 L465.52 226.55 L465.56 226.17 L465.60 226.55 L465.64 227.69 L465.67 229.63 L465.71 232.40 L465.74 236.08 L465.76 240.77 L465.79 246.62 L465.81 253.85 L465.82 262.77 L465.83 273.92 L465.84 288.13 L465.85 307.06 L465.85 325.50 M465.85 325.50 L465.85 310.87 L465.86 291.94 L465.87 277.72 L465.88 266.58 L465.89 257.65 L465.91 250.43 L465.94 244.58 L465.96 239.89 L465.99 236.21 L466.03 233.43 L466.06 231.50 L466.10 230.36 L466.14 229.98 L466.18 230.36 L466.21 231.50 L466.25 233.43 L466.28 236.21 L466.31 239.89 L466.34 244.58 L466.36 250.43 L466.38 257.65 L466.40 266.58 L466.41 277.72 L466.42 291.94 L466.42 310.87 L466.42 325.50 M466.43 325.50 L466.43 308.24 L466.43 289.31 L466.44 275.09 L466.45 263.95 L466.47 255.03 L466.49 247.80 L466.51 241.95 L466.54 237.26 L466.57 233.58 L466.60 230.81 L466.64 228.87 L466.67 227.73 L466.71 227.35 L466.75 227.73 L466.79 228.87 L466.82 230.81 L466.86 233.58 L466.89 237.26 L466.91 241.95 L466.94 247.80 L466.96 255.03 L466.97 263.95 L466.98 275.09 L466.99 289.31 L467.00 308.24 L467.00 325.50 M467.01 325.50 L467.01 320.87 L467.01 314.40 L467.01 308.51 L467.01 303.10 L467.02 298.12 L467.02 293.50 L467.03 289.19 L467.03 285.16 L467.04 281.38 L467.04 277.82 L467.05 274.46 L467.06 271.28 L467.07 268.27 L467.08 265.41 L467.08 262.69 L467.10 260.10 L467.11 257.63 L467.12 255.27 L467.13 253.01 L467.15 250.85 L467.16 248.78 L467.18 246.80 L467.19 244.90 L467.21 243.08 L467.23 241.33 L467.25 239.65 L467.27 238.03 L467.29 236.48 L467.32 234.99 L467.34 233.55 L467.36 232.17 L467.39 230.85 L467.42 229.57 L467.44 228.34 L467.47 227.17 L467.50 226.03 L467.53 224.95 L467.56 223.90 L467.59 222.90 L467.63 221.94 L467.66 221.01 L467.70 220.13 L467.73 219.28 L467.77 218.47 L467.81 217.69 L467.85 216.95 L467.88 216.25 L467.93 215.58 L467.97 214.94 L468.01 214.33 L468.05 213.75 L468.09 213.21 L468.14 212.69 L468.18 212.21 L468.23 211.76 L468.27 211.33 L468.32 210.94 L468.36 210.57 L468.41 210.23 L468.46 209.92 L468.51 209.64 L468.55 209.38 L468.60 209.15 L468.65 208.95 L468.70 208.78 L468.75 208.63 L468.80 208.51 L468.85 208.42 L468.90 208.35 L468.95 208.31 L469.00 208.30 L469.05 208.31 L469.10 208.35 L469.15 208.42 L469.20 208.51 L469.25 208.63 L469.30 208.78 L469.35 208.95 L469.40 209.15 L469.45 209.38 L469.49 209.64 L469.54 209.92 L469.59 210.23 L469.64 210.57 L469.68 210.94 L469.73 211.33 L469.77 211.76 L469.82 212.21 L469.86 212.69 L469.91 213.21 L469.95 213.75 L469.99 214.33 L470.03 214.94 L470.07 215.58 L470.12 216.25 L470.15 216.95 L470.19 217.69 L470.23 218.47 L470.27 219.28 L470.30 220.13 L470.34 221.01 L470.37 221.94 L470.41 222.90 L470.44 223.90 L470.47 224.95 L470.50 226.03 L470.53 227.17 L470.56 228.34 L470.58 229.57 L470.61 230.85 L470.64 232.17 L470.66 233.55 L470.68 234.99 L470.71 236.48 L470.73 238.03 L470.75 239.65 L470.77 241.33 L470.79 243.08 L470.81 244.90 L470.82 246.80 L470.84 248.78 L470.85 250.85 L470.87 253.01 L470.88 255.27 L470.89 257.63 L470.90 260.10 L470.92 262.69 L470.92 265.41 L470.93 268.27 L470.94 271.28 L470.95 274.46 L470.96 277.82 L470.96 281.38 L470.97 285.16 L470.97 289.19 L470.98 293.50 L470.98 298.12 L470.99 303.10 L470.99 308.51 L470.99 314.40 L470.99 320.87 L470.99 325.50 M471.01 325.50 L471.01 322.21 L471.01 313.08 L471.01 305.04 L471.02 297.87 L471.03 291.40 L471.03 285.51 L471.04 280.10 L471.05 275.12 L471.07 270.50 L471.08 266.19 L471.09 262.16 L471.11 258.38 L471.13 254.82 L471.15 251.46 L471.18 248.28 L471.20 245.27 L471.23 242.41 L471.26 239.69 L471.29 237.10 L471.33 234.63 L471.36 232.27 L471.40 230.01 L471.45 227.85 L471.49 225.78 L471.54 223.80 L471.59 221.90 L471.65 220.08 L471.70 218.33 L471.76 216.65 L471.83 215.03 L471.89 213.48 L471.96 211.99 L472.03 210.55 L472.11 209.17 L472.19 207.85 L472.27 206.57 L472.35 205.34 L472.44 204.17 L472.53 203.03 L472.62 201.95 L472.71 200.90 L472.81 199.90 L472.91 198.94 L473.02 198.01 L473.13 197.13 L473.23 196.28 L473.35 195.47 L473.46 194.69 L473.58 193.95 L473.70 193.25 L473.82 192.58 L473.95 191.94 L474.07 191.33 L474.20 190.75 L474.33 190.21 L474.47 189.69 L474.60 189.21 L474.74 188.76 L474.88 188.33 L475.02 187.94 L475.16 187.57 L475.30 187.23 L475.45 186.92 L475.59 186.64 L475.74 186.38 L475.89 186.15 L476.04 185.95 L476.19 185.78 L476.34 185.63 L476.49 185.51 L476.64 185.42 L476.80 185.35 L476.95 185.31 L477.10 185.30 L477.25 185.31 L477.40 185.35 L477.56 185.42 L477.71 185.51 L477.86 185.63 L478.01 185.78 L478.16 185.95 L478.31 186.15 L478.46 186.38 L478.61 186.64 L478.75 186.92 L478.90 187.23 L479.04 187.57 L479.18 187.94 L479.32 188.33 L479.46 188.76 L479.60 189.21 L479.73 189.69 L479.87 190.21 L480.00 190.75 L480.13 191.33 L480.25 191.94 L480.38 192.58 L480.50 193.25 L480.62 193.95 L480.74 194.69 L480.85 195.47 L480.97 196.28 L481.07 197.13 L481.18 198.01 L481.29 198.94 L481.39 199.90 L481.49 200.90 L481.58 201.95 L481.67 203.03 L481.76 204.17 L481.85 205.34 L481.93 206.57 L482.01 207.85 L482.09 209.17 L482.17 210.55 L482.24 211.99 L482.31 213.48 L482.37 215.03 L482.44 216.65 L482.50 218.33 L482.55 220.08 L482.61 221.90 L482.66 223.80 L482.71 225.78 L482.75 227.85 L482.80 230.01 L482.84 232.27 L482.87 234.63 L482.91 237.10 L482.94 239.69 L482.97 242.41 L483.00 245.27 L483.02 248.28 L483.05 251.46 L483.07 254.82 L483.09 258.38 L483.11 262.16 L483.12 266.19 L483.13 270.50 L483.15 275.12 L483.16 280.10 L483.17 285.51 L483.17 291.40 L483.18 297.87 L483.19 305.04 L483.19 313.08 L483.19 322.21 L483.19 325.50 M483.25 325.50 L483.25 325.04 L483.25 323.49 L483.25 321.95 L483.26 320.40 L483.26 318.86 L483.26 317.31 L483.27 315.76 L483.27 314.22 L483.27 312.67 L483.27 311.12 L483.28 309.58 L483.28 308.03 L483.28 306.48 L483.29 304.94 L483.29 303.39 L483.30 301.85 L483.30 300.30 L483.30 298.75 L483.31 297.21 L483.31 295.66 L483.32 294.11 L483.32 292.57 L483.33 291.02 L483.34 289.47 L483.34 287.93 L483.35 286.38 L483.35 284.84 L483.36 283.29 L483.37 281.74 L483.38 280.20 L483.38 278.65 L483.39 277.10 L483.40 275.56 L483.41 274.01 L483.42 272.47 L483.43 270.92 L483.44 269.37 L483.45 267.83 L483.46 266.28 L483.47 264.73 L483.48 263.19 L483.50 261.64 L483.51 260.09 L483.52 258.55 L483.54 257.00 L483.55 255.46 L483.57 253.91 L483.58 252.36 L483.60 250.82 L483.62 249.27 L483.64 247.72 L483.66 246.18 L483.68 244.63 L483.70 243.08 L483.72 241.54 L483.74 239.99 L483.77 238.45 L483.79 236.90 L483.82 235.35 L483.85 233.81 L483.87 232.26 L483.90 230.71 L483.93 229.17 L483.97 227.62 L484.00 226.07 L484.04 224.53 L484.07 222.98 L484.11 221.44 L484.15 219.89 L484.19 218.34 L484.24 216.80 L484.28 215.25 L484.33 213.70 L484.38 212.16 L484.43 210.61 L484.49 209.06 L484.55 207.52 L484.61 205.97 L484.67 204.43 L484.73 202.88 L484.80 201.33 L484.87 199.80 L484.94 198.29 L485.02 196.81 L485.10 195.35 L485.19 193.92 L485.27 192.51 L485.37 191.12 L485.46 189.75 L485.56 188.41 L485.67 187.08 L485.77 185.78 L485.89 184.49 L486.01 183.23 L486.13 181.98 L486.26 180.75 L486.40 179.53 L486.54 178.33 L486.68 177.14 L486.84 175.97 L487.00 174.81 L487.17 173.66 L487.34 172.53 L487.53 171.40 L487.72 170.28 L487.92 169.17 L488.12 168.07 L488.34 166.98 L488.57 165.89 L488.81 164.80 L489.05 163.72 L489.31 162.64 L489.58 161.57 L489.87 160.49 L490.16 159.42 L490.47 158.35 L490.79 157.27 L491.12 156.19 L491.47 155.12 L491.84 154.03 L492.22 152.95 L492.62 151.86 L493.04 150.76 L493.47 149.66 L493.93 148.56 L494.40 147.44 L494.89 146.32 L495.41 145.19 L495.95 144.06 L496.51 142.92 L497.10 141.77 L497.72 140.61 L498.36 139.45 L499.03 138.28 L499.73 137.11 L500.46 135.93 L501.22 134.74 L502.02 133.54 L502.85 132.34 L503.72 131.14 L504.62 129.93 L505.57 128.71 L506.56 127.49 L507.59 126.26 L508.67 125.04 L509.79 123.81 L510.97 122.59 L512.19 121.41 L513.48 120.27 L514.81 119.16 L516.21 118.07 L517.67 117.00 L519.19 115.93 L520.78 114.85 L522.44 113.74 L524.18 112.65 L525.99 111.56 L527.88 110.45 L529.85 109.23 L531.91 107.88 L534.07 106.42 L536.31 104.92 L538.66 103.41 L541.11 101.98 L543.67 100.58 L546.34 99.20 L549.13 97.85 L552.05 96.52 L555.09 95.23 L558.27 93.96 L561.58 92.72 L565.05 91.53 L568.66 90.37 L572.44 89.26 L576.38 88.20 L580.50 87.20" fill="none" stroke="#00fa00" stroke-width="1.08" stroke-linejoin="round"/>
<path d="M457.00 325.50 L457.00 229.18 L457.42 227.38 L457.42 325.50 L457.84 325.50 L457.84 228.20 L458.26 225.75 L458.26 325.50 L458.68 325.50 L458.68 228.17 L459.10 229.34 L459.10 325.50 L459.52 325.50 L459.52 227.62 L459.94 228.71 L459.94 325.50 L460.36 325.50 L460.36 228.36 L460.78 225.32 L460.78 325.50 L461.20 325.50 L461.20 228.79 L461.62 227.96 L461.62 325.50 L462.04 325.50 L462.04 226.51 L462.46 225.16 L462.46 325.50 L462.88 325.50 L462.88 229.33 L463.30 227.36 L463.30 325.50" fill="none" stroke="#00f000" stroke-width="0.8" stroke-linejoin="round"/>
<g clip-path="url(#pc2)"><path d="M456.51 232.91 L456.55 233.39 L456.59 233.91 L456.63 234.45 L456.67 235.03 L456.71 235.64 L456.74 236.28 L456.78 236.95 L456.82 237.65 L456.85 238.39 L456.89 239.17 L456.92 239.98 L456.96 240.83 L456.99 241.71 L457.02 242.64 L457.05 243.60 L457.08 244.60 L457.11 245.65 L457.14 246.73 L457.16 247.87 L457.19 249.04 L457.22 250.27 L457.24 251.55 L457.26 252.87 L457.29 254.25 L457.31 255.69 L457.33 257.18 L457.35 258.73 L457.37 260.35 L457.39 262.03 L457.40 263.78 L457.42 265.60 L457.44 267.50 L457.45 269.48 L457.46 271.55 L457.48 273.71 L457.49 275.97 L457.50 278.33 L457.51 280.80 L457.52 283.39 L457.53 286.11 L457.54 288.97 L457.55 291.98 L457.55 295.16 L457.56 298.52 L457.57 302.08 L457.57 305.86 L457.58 309.89 L457.58 314.20 L457.58 318.82 L457.59 323.80 L457.59 325.50 M457.61 325.50 L457.61 322.80 L457.61 316.91 L457.61 311.50 L457.61 306.52 L457.62 301.90 L457.62 297.59 L457.62 293.56 L457.63 289.78 L457.63 286.22 L457.64 282.86 L457.64 279.68 L457.65 276.67 L457.66 273.81 L457.66 271.09 L457.67 268.50 L457.68 266.03 L457.69 263.67 L457.70 261.41 L457.71 259.25 L457.72 257.18 L457.73 255.20 L457.75 253.30 L457.76 251.48 L457.77 249.73 L457.79 248.05 L457.80 246.43 L457.82 244.88 L457.84 243.39 L457.85 241.95 L457.87 240.57 L457.89 239.25 L457.91 237.97 L457.93 236.74 L457.95 235.57 L457.98 234.43 L458.00 233.35 L458.02 232.30 L458.05 231.30 L458.07 230.34 L458.10 229.41 L458.12 228.53 L458.15 227.68 L458.18 226.87 L458.21 226.09 L458.23 225.35 L458.26 224.65 L458.29 223.98 L458.32 223.34 L458.36 222.73 L458.39 222.15 L458.42 221.61 L458.45 221.09 L458.49 220.61 L458.52 220.16 L458.55 219.73 L458.59 219.34 L458.62 218.97 L458.66 218.63 L458.69 218.32 L458.73 218.04 L458.77 217.78 L458.80 217.55 L458.84 217.35 L458.88 217.18 L458.91 217.03 L458.95 216.91 L458.99 216.82 L459.03 216.75 L459.06 216.71 L459.10 216.70 L459.14 216.71 L459.17 216.75 L459.21 216.82 L459.25 216.91 L459.29 217.03 L459.32 217.18 L459.36 217.35 L459.40 217.55 L459.43 217.78 L459.47 218.04 L459.51 218.32 L459.54 218.63 L459.58 218.97 L459.61 219.34 L459.65 219.73 L459.68 220.16 L459.71 220.61 L459.75 221.09 L459.78 221.61 L459.81 222.15 L459.84 222.73 L459.88 223.34 L459.91 223.98 L459.94 224.65 L459.97 225.35 L459.99 226.09 L460.02 226.87 L460.05 227.68 L460.08 228.53 L460.10 229.41 L460.13 230.34 L460.15 231.30 L460.18 232.30 L460.20 233.35 L460.22 234.43 L460.25 235.57 L460.27 236.74 L460.29 237.97 L460.31 239.25 L460.33 240.57 L460.35 241.95 L460.36 243.39 L460.38 244.88 L460.40 246.43 L460.41 248.05 L460.43 249.73 L460.44 251.48 L460.45 253.30 L460.47 255.20 L460.48 257.18 L460.49 259.25 L460.50 261.41 L460.51 263.67 L460.52 266.03 L460.53 268.50 L460.54 271.09 L460.54 273.81 L460.55 276.67 L460.56 279.68 L460.56 282.86 L460.57 286.22 L460.57 289.78 L460.58 293.56 L460.58 297.59 L460.58 301.90 L460.59 306.52 L460.59 311.50 L460.59 316.91 L460.59 322.80 L460.59 325.50 M460.61 325.50 L460.61 323.80 L460.61 318.82 L460.61 314.20 L460.62 309.89 L460.62 305.86 L460.62 302.08 L460.63 298.52 L460.63 295.16 L460.63 291.98 L460.64 288.97 L460.65 286.11 L460.65 283.39 L460.66 280.80 L460.66 278.33 L460.67 275.97 L460.68 273.71 L460.69 271.55 L460.70 269.48 L460.71 267.50 L460.72 265.60 L460.73 263.78 L460.74 262.03 L460.75 260.35 L460.76 258.73 L460.78 257.18 L460.79 255.69 L460.80 254.25 L460.82 252.87 L460.83 251.55 L460.85 250.27 L460.87 249.04 L460.88 247.87 L460.90 246.73 L460.92 245.65 L460.94 244.60 L460.96 243.60 L460.98 242.64 L461.00 241.71 L461.02 240.83 L461.04 239.98 L461.06 239.17 L461.08 238.39 L461.11 237.65 L461.13 236.95 L461.16 236.28 L461.18 235.64 L461.20 235.03 L461.23 234.45 L461.26 233.91 L461.28 233.39 L461.31 232.91 L461.34 232.46 L461.36 232.03 L461.39 231.64 L461.42 231.27 L461.45 230.93 L461.48 230.62 L461.50 230.34 L461.53 230.08 L461.56 229.85 L461.59 229.65 L461.62 229.48 L461.65 229.33 L461.68 229.21 L461.71 229.12 L461.74 229.05 L461.77 229.01 L461.80 229.00 L461.83 229.01 L461.86 229.05 L461.89 229.12 L461.92 229.21 L461.95 229.33 L461.98 229.48 L462.01 229.65 L462.04 229.85 L462.07 230.08 L462.10 230.34 L462.12 230.62 L462.15 230.93 L462.18 231.27 L462.21 231.64 L462.24 232.03 L462.26 232.46 L462.29 232.91 L462.32 233.39 L462.34 233.91 L462.37 234.45 L462.40 235.03 L462.42 235.64 L462.44 236.28 L462.47 236.95 L462.49 237.65 L462.52 238.39 L462.54 239.17 L462.56 239.98 L462.58 240.83 L462.60 241.71 L462.62 242.64 L462.64 243.60 L462.66 244.60 L462.68 245.65 L462.70 246.73 L462.72 247.87 L462.73 249.04 L462.75 250.27 L462.77 251.55 L462.78 252.87 L462.80 254.25 L462.81 255.69 L462.82 257.18 L462.84 258.73 L462.85 260.35 L462.86 262.03 L462.87 263.78 L462.88 265.60 L462.89 267.50 L462.90 269.48 L462.91 271.55 L462.92 273.71 L462.93 275.97 L462.94 278.33 L462.94 280.80 L462.95 283.39 L462.95 286.11 L462.96 288.97 L462.97 291.98 L462.97 295.16 L462.97 298.52 L462.98 302.08 L462.98 305.86 L462.98 309.89 L462.99 314.20 L462.99 318.82 L462.99 323.80 L462.99 325.50 M463.01 325.50 L463.01 321.00 L463.01 315.11 L463.01 309.70 L463.02 304.72 L463.02 300.10 L463.02 295.79 L463.03 291.76 L463.03 287.98 L463.04 284.42 L463.05 281.06 L463.05 277.88 L463.06 274.87 L463.07 272.01 L463.08 269.29 L463.09 266.70 L463.10 264.23 L463.11 261.87 L463.12 259.61 L463.14 257.45 L463.15 255.38 L463.16 253.40 L463.18 251.50 L463.20 249.68 L463.21 247.93 L463.23 246.25 L463.25 244.63 L463.27 243.08 L463.29 241.59 L463.31 240.15 L463.34 238.77 L463.36 237.45 L463.38 236.17 L463.41 234.94 L463.44 233.77 L463.46 232.63 L463.49 231.55 L463.52 230.50 L463.55 229.50 L463.58 228.54 L463.61 227.61 L463.64 226.73 L463.68 225.88 L463.71 225.07 L463.75 224.29 L463.78 223.55 L463.82 222.85 L463.86 222.18 L463.89 221.54 L463.93 220.93 L463.97 220.35 L464.01 219.81 L464.05 219.29 L464.09 218.81 L464.13 218.36 L464.18 217.93 L464.22 217.54 L464.26 217.17 L464.31 216.83 L464.35 216.52 L464.39 216.24 L464.44 215.98 L464.48 215.75 L464.53 215.55 L464.57 215.38 L464.62 215.23 L464.67 215.11 L464.71 215.02 L464.76 214.95 L464.80 214.91 L464.85 214.90 L464.90 214.91 L464.94 214.95 L464.99 215.02 L465.03 215.11 L465.08 215.23 L465.13 215.38 L465.17 215.55 L465.22 215.75 L465.26 215.98 L465.31 216.24 L465.35 216.52 L465.39 216.83 L465.44 217.17 L465.48 217.54" fill="none" stroke="#000" stroke-width="0.8" stroke-linejoin="round"/></g>
<path d="M78.85 53.23 L94.29 55.08 L108.87 56.91 L122.63 58.69 L135.62 60.46 L147.89 62.27 L159.48 64.10 L170.41 65.91 L180.74 67.71 L190.49 69.49 L199.69 71.25 L208.38 72.98 L216.59 74.67 L224.33 76.39 L231.65 78.13 L238.55 79.80 L245.07 81.49 L251.23 83.23 L257.04 85.02 L262.53 86.87 L267.71 88.73 L272.60 90.57 L277.22 92.36 L281.58 94.10 L285.70 95.81 L289.58 97.51 L293.25 99.18 L296.72 100.84 L299.99 102.50 L303.08 104.15 L306.00 105.78 L308.75 107.39 L311.35 109.00 L313.80 110.60 L316.12 112.19 L318.31 113.77 L320.37 115.33 L322.33 116.90 L324.17 118.47 L325.91 120.05 L327.55 121.65 L329.10 123.27 L330.56 124.91 L331.94 126.57 L333.25 128.22 L334.48 129.86 L335.64 131.48 L336.74 133.07 L337.78 134.62 L338.75 136.12 L339.68 137.60 L340.55 139.06 L341.37 140.51 L342.15 141.94 L342.89 143.38 L343.58 144.83 L344.23 146.29 L344.85 147.78 L345.44 149.31 L345.99 150.88 L346.51 152.46 L347.00 154.04 L347.46 155.60 L347.90 157.11 L348.31 158.54 L348.70 159.92 L349.07 161.27 L349.42 162.59 L349.75 163.89 L350.06 165.16 L350.35 166.41 L350.63 167.65 L350.89 168.87 L351.13 170.07 L351.37 171.27 L351.59 172.45 L351.79 173.63 L351.99 174.80 L352.17 175.98 L352.35 177.15 L352.51 178.33 L352.67 179.51 L352.82 180.70 L352.96 181.89 L353.09 183.10 L353.21 184.33 L353.33 185.57 L353.44 186.83 L353.54 188.09 L353.64 189.36 L353.73 190.62 L353.82 191.89 L353.90 193.15 L353.98 194.42 L354.05 195.69 L354.12 196.96 L354.19 198.23 L354.25 199.50 L354.31 200.77 L354.37 202.04 L354.42 203.31 L354.47 204.59 L354.51 205.86 L354.56 207.13 L354.60 208.41 L354.64 209.69 L354.67 210.96 L354.71 212.24 L354.74 213.52 L354.77 214.80 L354.80 216.08 L354.83 217.36 L354.86 218.65 L354.88 219.93 L354.91 221.22 L354.93 222.50 L354.95 223.79 L354.97 225.08 L354.99 226.36 L355.00 227.65 L355.02 228.94 L355.04 230.23 L355.05 231.53 L355.06 232.82 L355.08 234.11 L355.09 235.41 L355.10 236.71 L355.11 238.00 L355.12 239.30 L355.13 240.60 L355.14 241.90 L355.15 243.20 L355.16 244.51 L355.17 245.81 L355.17 247.11 L355.18 248.42 L355.19 249.73 L355.19 251.03 L355.20 252.34 L355.21 253.65 L355.21 254.97 L355.22 256.28 L355.22 257.59 L355.23 258.91 L355.23 260.22 L355.23 261.54 L355.24 262.86 L355.24 264.18 L355.24 265.50 L355.25 266.82 L355.25 268.15 L355.25 269.47 L355.26 270.80 L355.26 272.12 L355.26 273.45 L355.26 274.78 L355.26 276.11 L355.27 277.45 L355.27 278.78 L355.27 280.12 L355.27 281.45 L355.27 282.79 L355.27 284.13 L355.28 285.47 L355.28 286.81 L355.28 288.15 L355.28 289.50 L355.28 290.84 L355.28 292.19 L355.28 293.54 L355.28 294.89 L355.29 296.24 L355.29 297.59 L355.29 298.95 L355.29 300.31 L355.29 301.66 L355.29 303.02 L355.29 304.38 L355.29 305.74 L355.29 307.11 L355.29 308.47 L355.29 309.84 L355.29 311.21 L355.29 312.57 L355.29 313.95 L355.29 315.32 L355.29 316.69 L355.29 318.07 L355.29 319.44 L355.29 320.82 L355.29 322.20 L355.30 323.58 L355.30 324.70 M355.51 324.70 L355.51 322.81 L355.51 316.26 L355.51 310.28 L355.51 304.79 L355.52 299.70 L355.52 294.97 L355.53 290.55 L355.53 286.39 L355.54 282.48 L355.54 278.78 L355.55 275.28 L355.56 271.95 L355.57 268.77 L355.58 265.74 L355.59 262.85 L355.60 260.07 L355.61 257.40 L355.63 254.84 L355.64 252.38 L355.66 250.00 L355.68 247.71 L355.69 245.49 L355.71 243.35 L355.73 241.28 L355.75 239.27 L355.78 237.32 L355.80 235.43 L355.83 233.59 L355.85 231.81 L355.88 230.08 L355.91 228.39 L355.94 226.75 L355.98 225.15 L356.01 223.59 L356.05 222.06 L356.08 220.58 L356.12 219.13 L356.16 217.72 L356.21 216.33 L356.25 214.98 L356.30 213.66 L356.35 212.37 L356.39 211.11 L356.45 209.87 L356.50 208.66 L356.55 207.47 L356.61 206.31 L356.67 205.17 L356.73 204.06 L356.79 202.96 L356.86 201.89 L356.93 200.84 L357.00 199.81 L357.07 198.80 L357.14 197.80 L357.22 196.83 L357.29 195.87 L357.37 194.93 L357.45 194.01 L357.54 193.10 L357.62 192.21 L357.71 191.34 L357.80 190.48 L357.90 189.63 L357.99 188.80 L358.09 187.98 L358.19 187.18 L358.29 186.39 L358.40 185.62 L358.50 184.85 L358.61 184.10 L358.72 183.36 L358.84 182.64 L358.96 181.92 L359.07 181.22 L359.20 180.53 L359.32 179.85 L359.45 179.18 L359.57 178.52 L359.71 177.87 L359.84 177.23 L359.98 176.60 L360.11 175.98 L360.26 175.37 L360.40 174.78 L360.55 174.19 L360.69 173.61 L360.85 173.03 L361.00 172.47 L361.16 171.92 L361.31 171.37 L361.48 170.83 L361.64 170.31 L361.81 169.79 L361.97 169.27 L362.15 168.77 L362.32 168.27 L362.50 167.79 L362.67 167.31 L362.86 166.83 L363.04 166.37 L363.23 165.91 L363.41 165.46 L363.61 165.01 L363.80 164.58 L364.00 164.15 L364.19 163.72 L364.40 163.31 L364.60 162.90 L364.80 162.49 L365.01 162.10 L365.22 161.71 L365.44 161.32 L365.65 160.95 L365.87 160.58 L366.09 160.21 L366.31 159.85 L366.54 159.50 L366.76 159.16 L366.99 158.81 L367.22 158.48 L367.46 158.15 L367.69 157.83 L367.93 157.51 L368.17 157.20 L368.42 156.89 L368.66 156.59 L368.91 156.30 L369.16 156.01 L369.41 155.73 L369.66 155.45 L369.91 155.18 L370.17 154.91 L370.43 154.65 L370.69 154.39 L370.95 154.14 L371.22 153.89 L371.49 153.65 L371.75 153.41 L372.03 153.18 L372.30 152.95 L372.57 152.73 L372.85 152.52 L373.12 152.30 L373.40 152.10 L373.68 151.89 L373.97 151.70 L374.25 151.51 L374.54 151.32 L374.82 151.13 L375.11 150.96 L375.40 150.78 L375.69 150.61 L375.99 150.45 L376.28 150.29 L376.58 150.14 L376.87 149.99 L377.17 149.84 L377.47 149.70 L377.77 149.56 L378.08 149.43 L378.38 149.30 L378.68 149.18 L378.99 149.06 L379.29 148.95 L379.60 148.84 L379.91 148.73 L380.22 148.63 L380.53 148.53 L380.84 148.44 L381.15 148.35 L381.46 148.27 L381.78 148.19 L382.09 148.12 L382.41 148.05 L382.72 147.98 L383.04 147.92 L383.35 147.86 L383.67 147.81 L383.99 147.76 L384.31 147.71 L384.62 147.67 L384.94 147.64 L385.26 147.60 L385.58 147.58 L385.90 147.55 L386.22 147.53 L386.54 147.52 L386.86 147.51 L387.18 147.50 L387.50 147.50 L387.82 147.50 L388.14 147.51 L388.46 147.52 L388.78 147.53 L389.10 147.55 L389.42 147.58 L389.74 147.60 L390.06 147.64 L390.38 147.67 L390.69 147.71 L391.01 147.76 L391.33 147.81 L391.65 147.86 L391.96 147.92 L392.28 147.98 L392.59 148.05 L392.91 148.12 L393.22 148.19 L393.54 148.27 L393.85 148.35 L394.16 148.44 L394.47 148.53 L394.78 148.63 L395.09 148.73 L395.40 148.84 L395.71 148.95 L396.01 149.06 L396.32 149.18 L396.62 149.30 L396.92 149.43 L397.23 149.56 L397.53 149.70 L397.83 149.84 L398.13 149.99 L398.42 150.14 L398.72 150.29 L399.01 150.45 L399.31 150.61 L399.60 150.78 L399.89 150.96 L400.18 151.13 L400.46 151.32 L400.75 151.51 L401.03 151.70 L401.32 151.89 L401.60 152.10 L401.88 152.30 L402.15 152.52 L402.43 152.73 L402.70 152.95 L402.97 153.18 L403.25 153.41 L403.51 153.65 L403.78 153.89 L404.05 154.14 L404.31 154.39 L404.57 154.65 L404.83 154.91 L405.09 155.18 L405.34 155.45 L405.59 155.73 L405.84 156.01 L406.09 156.30 L406.34 156.59 L406.58 156.89 L406.83 157.20 L407.07 157.51 L407.31 157.83 L407.54 158.15 L407.78 158.48 L408.01 158.81 L408.24 159.16 L408.46 159.50 L408.69 159.85 L408.91 160.21 L409.13 160.58 L409.35 160.95 L409.56 161.32 L409.78 161.71 L409.99 162.10 L410.20 162.49 L410.40 162.90 L410.60 163.31 L410.81 163.72 L411.00 164.15 L411.20 164.58 L411.39 165.01 L411.59 165.46 L411.77 165.91 L411.96 166.37 L412.14 166.83 L412.33 167.31 L412.50 167.79 L412.68 168.27 L412.85 168.77 L413.03 169.27 L413.19 169.79 L413.36 170.31 L413.52 170.83 L413.69 171.37 L413.84 171.92 L414.00 172.47 L414.15 173.03 L414.31 173.61 L414.45 174.19 L414.60 174.78 L414.74 175.37 L414.89 175.98 L415.02 176.60 L415.16 177.23 L415.29 177.87 L415.43 178.52 L415.55 179.18 L415.68 179.85 L415.80 180.53 L415.93 181.22 L416.04 181.92 L416.16 182.64 L416.28 183.36 L416.39 184.10 L416.50 184.85 L416.60 185.62 L416.71 186.39 L416.81 187.18 L416.91 187.98 L417.01 188.80 L417.10 189.63 L417.20 190.48 L417.29 191.34 L417.38 192.21 L417.46 193.10 L417.55 194.01 L417.63 194.93 L417.71 195.87 L417.78 196.83 L417.86 197.80 L417.93 198.80 L418.00 199.81 L418.07 200.84 L418.14 201.89 L418.21 202.96 L418.27 204.06 L418.33 205.17 L418.39 206.31 L418.45 207.47 L418.50 208.66 L418.55 209.87 L418.61 211.11 L418.65 212.37 L418.70 213.66 L418.75 214.98 L418.79 216.33 L418.84 217.72 L418.88 219.13 L418.92 220.58 L418.95 222.06 L418.99 223.59 L419.02 225.15 L419.06 226.75 L419.09 228.39 L419.12 230.08 L419.15 231.81 L419.17 233.59 L419.20 235.43 L419.22 237.32 L419.25 239.27 L419.27 241.28 L419.29 243.35 L419.31 245.49 L419.32 247.71 L419.34 250.00 L419.36 252.38 L419.37 254.84 L419.39 257.40 L419.40 260.07 L419.41 262.85 L419.42 265.74 L419.43 268.77 L419.44 271.95 L419.45 275.28 L419.46 278.78 L419.46 282.48 L419.47 286.39 L419.47 290.55 L419.48 294.97 L419.48 299.70 L419.49 304.79 L419.49 310.28 L419.49 316.26 L419.49 322.81 L419.49 323.90 M419.41 323.90 L419.41 321.37 L419.41 310.81 L419.42 301.68 L419.43 293.64 L419.43 286.47 L419.45 280.00 L419.46 274.11 L419.48 268.70 L419.49 263.72 L419.52 259.10 L419.54 254.79 L419.57 250.76 L419.60 246.98 L419.63 243.42 L419.67 240.06 L419.71 236.88 L419.76 233.87 L419.81 231.01 L419.86 228.29 L419.92 225.70 L419.98 223.23 L420.05 220.87 L420.12 218.61 L420.19 216.45 L420.27 214.38 L420.36 212.40 L420.45 210.50 L420.55 208.68 L420.65 206.93 L420.75 205.25 L420.86 203.63 L420.98 202.08 L421.10 200.59 L421.23 199.15 L421.36 197.77 L421.50 196.45 L421.64 195.17 L421.79 193.94 L421.94 192.77 L422.10 191.63 L422.27 190.55 L422.44 189.50 L422.61 188.50 L422.79 187.54 L422.97 186.61 L423.16 185.73 L423.36 184.88 L423.56 184.07 L423.76 183.29 L423.97 182.55 L424.18 181.85 L424.40 181.18 L424.62 180.54 L424.84 179.93 L425.07 179.35 L425.30 178.81 L425.54 178.29 L425.78 177.81 L426.02 177.36 L426.27 176.93 L426.51 176.54 L426.77 176.17 L427.02 175.83 L427.28 175.52 L427.53 175.24 L427.80 174.98 L428.06 174.75 L428.32 174.55 L428.59 174.38 L428.85 174.23 L429.12 174.11 L429.39 174.02 L429.66 173.95 L429.93 173.91 L430.20 173.90 L430.47 173.91 L430.74 173.95 L431.01 174.02 L431.28 174.11 L431.55 174.23 L431.81 174.38 L432.08 174.55 L432.34 174.75 L432.60 174.98 L432.87 175.24 L433.12 175.52 L433.38 175.83 L433.63 176.17 L433.89 176.54 L434.13 176.93 L434.38 177.36 L434.62 177.81 L434.86 178.29 L435.10 178.81 L435.33 179.35 L435.56 179.93 L435.78 180.54 L436.00 181.18 L436.22 181.85 L436.43 182.55 L436.64 183.29 L436.84 184.07 L437.04 184.88 L437.24 185.73 L437.43 186.61 L437.61 187.54 L437.79 188.50 L437.96 189.50 L438.13 190.55 L438.30 191.63 L438.46 192.77 L438.61 193.94 L438.76 195.17 L438.90 196.45 L439.04 197.77 L439.17 199.15 L439.30 200.59 L439.42 202.08 L439.54 203.63 L439.65 205.25 L439.75 206.93 L439.85 208.68 L439.95 210.50 L440.04 212.40 L440.13 214.38 L440.21 216.45 L440.28 218.61 L440.35 220.87 L440.42 223.23 L440.48 225.70 L440.54 228.29 L440.59 231.01 L440.64 233.87 L440.69 236.88 L440.73 240.06 L440.77 243.42 L440.80 246.98 L440.83 250.76 L440.86 254.79 L440.88 259.10 L440.91 263.72 L440.92 268.70 L440.94 274.11 L440.95 280.00 L440.97 286.47 L440.97 293.64 L440.98 301.68 L440.99 310.81 L440.99 321.37 L440.99 325.50 M441.01 325.50 L441.01 316.78 L441.01 308.74 L441.02 301.57 L441.02 295.10 L441.03 289.21 L441.04 283.80 L441.04 278.82 L441.05 274.20 L441.07 269.89 L441.08 265.86 L441.09 262.08 L441.11 258.52 L441.13 255.16 L441.15 251.98 L441.17 248.97 L441.19 246.11 L441.22 243.39 L441.24 240.80 L441.27 238.33 L441.30 235.97 L441.34 233.71 L441.37 231.55 L441.41 229.48 L441.45 227.50 L441.50 225.60 L441.54 223.78 L441.59 222.03 L441.64 220.35 L441.69 218.73 L441.75 217.18 L441.80 215.69 L441.86 214.25 L441.93 212.87 L441.99 211.55 L442.06 210.27 L442.13 209.04 L442.20 207.87 L442.28 206.73 L442.35 205.65 L442.43 204.60 L442.52 203.60 L442.60 202.64 L442.69 201.71 L442.78 200.83 L442.87 199.98 L442.96 199.17 L443.06 198.39 L443.16 197.65 L443.26 196.95 L443.36 196.28 L443.46 195.64 L443.57 195.03 L443.68 194.45 L443.79 193.91 L443.90 193.39 L444.01 192.91 L444.13 192.46 L444.24 192.03 L444.36 191.64 L444.48 191.27 L444.60 190.93 L444.72 190.62 L444.84 190.34 L444.96 190.08 L445.09 189.85 L445.21 189.65 L445.34 189.48 L445.46 189.33 L445.59 189.21 L445.72 189.12 L445.85 189.05 L445.97 189.01 L446.10 189.00 L446.23 189.01 L446.35 189.05 L446.48 189.12 L446.61 189.21 L446.74 189.33 L446.86 189.48 L446.99 189.65 L447.11 189.85 L447.24 190.08 L447.36 190.34 L447.48 190.62 L447.60 190.93 L447.72 191.27 L447.84 191.64 L447.96 192.03 L448.07 192.46 L448.19 192.91 L448.30 193.39 L448.41 193.91 L448.52 194.45 L448.63 195.03 L448.74 195.64 L448.84 196.28 L448.94 196.95 L449.04 197.65 L449.14 198.39 L449.24 199.17 L449.33 199.98 L449.42 200.83 L449.51 201.71 L449.60 202.64 L449.68 203.60 L449.77 204.60 L449.85 205.65 L449.92 206.73 L450.00 207.87 L450.07 209.04 L450.14 210.27 L450.21 211.55 L450.27 212.87 L450.34 214.25 L450.40 215.69 L450.45 217.18 L450.51 218.73 L450.56 220.35 L450.61 222.03 L450.66 223.78 L450.70 225.60 L450.75 227.50 L450.79 229.48 L450.83 231.55 L450.86 233.71 L450.90 235.97 L450.93 238.33 L450.96 240.80 L450.98 243.39 L451.01 246.11 L451.03 248.97 L451.05 251.98 L451.07 255.16 L451.09 258.52 L451.11 262.08 L451.12 265.86 L451.13 269.89 L451.15 274.20 L451.16 278.82 L451.16 283.80 L451.17 289.21 L451.18 295.10 L451.18 301.57 L451.19 308.74 L451.19 316.78 L451.19 325.50" fill="none" stroke="#ffa500" stroke-width="1.1" stroke-linejoin="round"/>
<path d="M451.30 244.08 L451.80 244.88 L452.30 242.78 L452.80 244.94 L453.30 245.92 L453.80 245.27 L454.30 250.26 L454.80 247.85 L455.30 248.48 L455.80 248.59 L456.30 248.39 L456.80 249.57 L457.30 249.60 L457.80 249.19 L458.30 254.34 L458.80 255.54 L459.30 258.48 L459.80 260.29 L460.30 261.49 L460.80 265.56 L461.30 262.45 L461.80 263.20 L462.30 264.28 L462.80 263.78 L463.30 266.56 L463.80 265.92 L464.30 267.31 L464.80 266.63 L465.30 262.73 L465.80 261.43 L466.30 263.37 L466.80 264.48 L467.30 265.30 L467.80 270.23 L468.30 268.79 L468.80 266.09 L469.30 265.39 L469.80 264.09 L470.30 264.18 L470.80 263.22 L471.30 262.88 L471.80 265.60 L472.30 267.30 L472.80 269.01 L473.30 268.36 L473.80 267.51 L474.30 268.12 L474.80 265.36 L475.30 265.12 L475.80 261.94 L476.30 265.40 L476.80 265.53 L477.30 267.07 L477.80 265.16 L478.30 264.61 L478.80 264.23 L479.30 266.93 L479.80 267.90 L480.30 267.32 L480.80 268.16 L481.30 268.41 L481.80 265.87 L482.30 264.56 L482.80 262.83 L483.30 262.30 L483.80 260.24 L484.30 260.57 L484.80 256.91 L485.30 257.93 L485.80 258.56 L486.30 255.33 L486.80 255.90 L487.30 255.28 L487.80 251.95 L488.30 252.68 L488.80 250.47 L489.30 250.16 L489.80 248.78 L490.30 248.18 L490.80 253.44 L491.30 252.55 L491.80 253.02 L492.30 256.00 L492.80 255.87 L493.30 255.72 L493.80 255.61 L494.30 258.35 L494.80 256.66 L495.30 260.57 L495.80 261.03 L496.30 261.52 L496.80 261.38 L497.30 258.41 L497.80 258.85 L498.30 257.44 L498.80 255.70 L499.30 253.19 L499.80 253.15 L500.30 249.27 L500.80 248.97 L501.30 243.68 L501.80 243.51 L502.30 240.88 L502.80 239.95 L502.80 326.79 L502.30 330.54 L501.80 332.71 L501.30 328.24 L500.80 329.88 L500.30 327.73 L499.80 329.04 L499.30 328.66 L498.80 328.04 L498.30 330.17 L497.80 330.53 L497.30 327.87 L496.80 326.81 L496.30 327.00 L495.80 332.56 L495.30 328.80 L494.80 331.57 L494.30 327.78 L493.80 328.29 L493.30 327.69 L492.80 330.13 L492.30 328.74 L491.80 328.58 L491.30 332.70 L490.80 328.61 L490.30 332.00 L489.80 329.99 L489.30 331.91 L488.80 329.16 L488.30 326.94 L487.80 327.82 L487.30 327.43 L486.80 331.60 L486.30 327.51 L485.80 331.33 L485.30 328.45 L484.80 327.20 L484.30 328.51 L483.80 328.82 L483.30 327.83 L482.80 331.18 L482.30 329.26 L481.80 328.32 L481.30 330.58 L480.80 331.58 L480.30 327.47 L479.80 327.21 L479.30 330.18 L478.80 327.94 L478.30 328.55 L477.80 329.01 L477.30 327.73 L476.80 327.09 L476.30 328.67 L475.80 327.19 L475.30 326.64 L474.80 327.49 L474.30 330.73 L473.80 329.23 L473.30 329.56 L472.80 326.81 L472.30 329.49 L471.80 333.50 L471.30 329.04 L470.80 326.73 L470.30 329.57 L469.80 328.63 L469.30 329.56 L468.80 328.76 L468.30 328.84 L467.80 328.39 L467.30 328.24 L466.80 328.70 L466.30 329.82 L465.80 328.36 L465.30 329.95 L464.80 327.00 L464.30 329.90 L463.80 327.84 L463.30 330.88 L462.80 332.25 L462.30 327.27 L461.80 329.33 L461.30 327.50 L460.80 328.73 L460.30 331.66 L459.80 331.73 L459.30 327.88 L458.80 327.94 L458.30 332.52 L457.80 326.84 L457.30 330.77 L456.80 329.00 L456.30 330.09 L455.80 328.31 L455.30 328.56 L454.80 328.13 L454.30 330.22 L453.80 327.47 L453.30 327.84 L452.80 329.48 L452.30 327.55 L451.80 329.66 L451.30 329.81Z" fill="#ffa500" stroke="#ffa500" stroke-width="0.4" stroke-linejoin="round"/>
<path d="M502.32 325.50 L502.32 324.41 L502.32 322.88 L502.32 321.35 L502.32 319.81 L502.32 318.28 L502.33 316.75 L502.33 315.21 L502.33 313.68 L502.33 312.15 L502.33 310.61 L502.33 309.08 L502.33 307.55 L502.33 306.01 L502.34 304.48 L502.34 302.95 L502.34 301.41 L502.34 299.88 L502.34 298.35 L502.34 296.81 L502.35 295.28 L502.35 293.75 L502.35 292.21 L502.35 290.68 L502.35 289.15 L502.36 287.61 L502.36 286.08 L502.36 284.55 L502.36 283.01 L502.37 281.48 L502.37 279.95 L502.37 278.41 L502.38 276.88 L502.38 275.35 L502.38 273.81 L502.39 272.28 L502.39 270.75 L502.39 269.21 L502.40 267.68 L502.40 266.15 L502.41 264.61 L502.41 263.08 L502.42 261.55 L502.42 260.01 L502.43 258.48 L502.43 256.95 L502.44 255.41 L502.44 253.88 L502.45 252.35 L502.46 250.81 L502.46 249.28 L502.47 247.75 L502.48 246.21 L502.48 244.68 L502.49 243.15 L502.50 241.61 L502.51 240.08 L502.52 238.55 L502.53 237.01 L502.54 235.48 L502.55 233.95 L502.56 232.41 L502.57 230.88 L502.58 229.35 L502.59 227.81 L502.61 226.28 L502.62 224.75 L502.63 223.21 L502.65 221.68 L502.66 220.15 L502.68 218.61 L502.69 217.08 L502.71 215.55 L502.73 214.01 L502.75 212.48 L502.77 210.95 L502.79 209.41 L502.81 207.88 L502.83 206.35 L502.85 204.81 L502.88 203.28 L502.90 201.75 L502.93 200.21 L502.95 198.68 L502.98 197.15 L503.01 195.61 L503.04 194.08 L503.08 192.55 L503.11 191.01 L503.14 189.48 L503.18 187.95 L503.22 186.41 L503.26 184.88 L503.30 183.35 L503.34 181.81 L503.39 180.28 L503.44 178.76 L503.48 177.30 L503.54 175.89 L503.59 174.52 L503.64 173.20 L503.70 171.91 L503.76 170.66 L503.83 169.44 L503.89 168.24 L503.96 167.07 L504.03 165.91 L504.11 164.77 L504.19 163.65 L504.27 162.53 L504.35 161.42 L504.44 160.32 L504.53 159.22 L504.63 158.12 L504.73 157.01 L504.84 155.91 L504.95 154.80 L505.06 153.68 L505.18 152.56 L505.30 151.43 L505.43 150.28 L505.57 149.13 L505.71 147.96 L505.86 146.78 L506.01 145.59 L506.17 144.39 L506.34 143.16 L506.52 141.93 L506.70 140.68 L506.89 139.41 L507.09 138.13 L507.29 136.84 L507.51 135.53 L507.73 134.20 L507.97 132.86 L508.21 131.54 L508.47 130.22 L508.74 128.88 L509.02 127.53 L509.31 126.17 L509.61 124.80 L509.92 123.42 L510.25 122.03 L510.60 120.63 L510.96 119.23 L511.33 117.82 L511.72 116.40 L512.13 114.98 L512.55 113.56 L513.00 112.13 L513.46 110.70 L513.94 109.26 L514.45 107.83 L514.97 106.40 L515.52 104.96 L516.09 103.53 L516.69 102.10 L517.31 100.66 L517.96 99.23 L518.63 97.81 L519.34 96.39 L520.08 94.98 L520.85 93.58 L521.65 92.19 L522.48 90.80 L523.36 89.42 L524.27 88.05 L525.22 86.68 L526.21 85.32 L527.24 83.95 L528.32 82.58 L529.44 81.19 L530.62 79.80 L531.84 78.41 L533.12 77.02 L534.45 75.64 L535.84 74.26 L537.29 72.89 L538.80 71.51 L540.38 70.14 L542.03 68.74 L543.75 67.31 L545.54 65.85 L547.41 64.36 L549.36 62.86 L551.39 61.36 L553.51 59.86 L555.73 58.40 L558.04 56.93 L560.45 55.45 L562.96 53.95 L565.58 52.45 L568.32 50.93 L571.18 49.39 L574.15 47.84 L577.26 46.27 L580.50 44.68" fill="none" stroke="#ffa500" stroke-width="1.1" stroke-linejoin="round"/>
<path d="M62.50 57.68 L78.37 59.63 L93.35 61.54 L107.50 63.40 L120.86 65.19 L133.48 66.91 L145.39 68.51 L156.64 69.97 L167.26 71.33 L177.29 72.71 L186.77 74.20 L195.71 75.84 L204.16 77.63 L212.13 79.52 L219.66 81.41 L226.77 83.31 L233.49 85.26 L239.83 87.20 L245.82 89.03 L251.47 90.69 L256.81 92.23 L261.85 93.74 L266.61 95.28 L271.11 96.91 L275.35 98.60 L279.36 100.35 L283.15 102.07 L286.72 103.71 L290.10 105.34 L293.28 106.95 L296.29 108.56 L299.14 110.19 L301.82 111.81 L304.35 113.43 L306.75 115.05 L309.01 116.65 L311.14 118.26 L313.15 119.86 L315.06 121.45 L316.85 123.03 L318.55 124.60 L320.15 126.15 L321.66 127.68 L323.09 129.19 L324.44 130.69 L325.71 132.17 L326.92 133.64 L328.05 135.11 L329.12 136.57 L330.14 138.03 L331.09 139.49 L332.00 140.96 L332.85 142.46 L333.65 143.97 L334.41 145.48 L335.13 146.96 L335.81 148.39 L336.45 149.76 L337.06 151.04 L337.63 152.22 L338.16 153.33 L338.67 154.40 L339.15 155.47 L339.61 156.56 L340.04 157.71 L340.44 158.95 L340.82 160.27 L341.18 161.66 L341.53 163.10 L341.85 164.58 L342.15 166.10 L342.44 167.65 L342.71 169.20 L342.96 170.75 L343.21 172.30 L343.43 173.82 L343.65 175.30 L343.85 176.75 L344.04 178.14 L344.23 179.46 L344.40 180.71 L344.56 181.90 L344.71 183.03 L344.86 184.13 L344.99 185.21 L345.12 186.28 L345.24 187.36 L345.36 188.46 L345.47 189.61 L345.57 190.79 L345.66 191.98 L345.76 193.16 L345.84 194.35 L345.92 195.55 L346.00 196.74 L346.07 197.93 L346.14 199.13 L346.20 200.33 L346.27 201.53 L346.32 202.73 L346.38 203.93 L346.43 205.14 L346.48 206.34 L346.52 207.55 L346.57 208.76 L346.61 209.97 L346.65 211.19 L346.68 212.40 L346.72 213.62 L346.75 214.84 L346.78 216.06 L346.81 217.29 L346.84 218.51 L346.86 219.74 L346.89 220.97 L346.91 222.20 L346.93 223.44 L346.95 224.67 L346.97 225.91 L346.99 227.15 L347.01 228.40 L347.02 229.64 L347.04 230.89 L347.05 232.14 L347.07 233.39 L347.08 234.65 L347.09 235.90 L347.10 237.16 L347.11 238.43 L347.13 239.69 L347.13 240.96 L347.14 242.23 L347.15 243.50 L347.16 244.77 L347.17 246.05 L347.18 247.33 L347.18 248.61 L347.19 249.90 L347.20 251.18 L347.20 252.47 L347.21 253.77 L347.21 255.06 L347.22 256.36 L347.22 257.66 L347.23 258.96 L347.23 260.27 L347.23 261.58 L347.24 262.89 L347.24 264.21 L347.24 265.53 L347.25 266.85 L347.25 268.17 L347.25 269.50 L347.26 270.83 L347.26 272.16 L347.26 273.50 L347.26 274.84 L347.26 276.18 L347.27 277.52 L347.27 278.87 L347.27 280.22 L347.27 281.58 L347.27 282.94 L347.28 284.30 L347.28 285.66 L347.28 287.03 L347.28 288.40 L347.28 289.78 L347.28 291.15 L347.28 292.53 L347.28 293.92 L347.28 295.31 L347.29 296.70 L347.29 298.09 L347.29 299.49 L347.29 300.89 L347.29 302.30 L347.29 303.71 L347.29 305.12 L347.29 306.54 L347.29 307.96 L347.29 309.38 L347.29 310.81 L347.29 312.24 L347.29 313.68 L347.29 315.11 L347.29 316.56 L347.29 318.00 L347.29 319.45 L347.29 320.91 L347.29 322.36 L347.29 323.83 L347.30 325.29 L347.30 325.50 M347.31 325.50 L347.31 320.35 L347.31 313.81 L347.31 307.85 L347.32 302.36 L347.32 297.29 L347.32 292.58 L347.33 288.17 L347.34 284.04 L347.34 280.15 L347.35 276.47 L347.36 272.98 L347.37 269.68 L347.38 266.53 L347.39 263.52 L347.40 260.65 L347.41 257.90 L347.43 255.26 L347.44 252.73 L347.46 250.29 L347.48 247.95 L347.49 245.69 L347.51 243.51 L347.54 241.40 L347.56 239.36 L347.58 237.39 L347.61 235.48 L347.63 233.63 L347.66 231.84 L347.69 230.10 L347.72 228.41 L347.75 226.76 L347.79 225.17 L347.82 223.61 L347.86 222.10 L347.90 220.63 L347.94 219.19 L347.98 217.79 L348.03 216.43 L348.07 215.10 L348.12 213.81 L348.17 212.54 L348.22 211.31 L348.28 210.10 L348.33 208.93 L348.39 207.78 L348.45 206.65 L348.51 205.56 L348.57 204.48 L348.63 203.43 L348.70 202.41 L348.77 201.40 L348.84 200.42 L348.91 199.46 L348.99 198.52 L349.06 197.60 L349.14 196.70 L349.22 195.82 L349.31 194.95 L349.39 194.11 L349.48 193.28 L349.57 192.47 L349.66 191.68 L349.75 190.91 L349.85 190.14 L349.94 189.40 L350.04 188.67 L350.15 187.96 L350.25 187.26 L350.36 186.57 L350.46 185.90 L350.57 185.25 L350.69 184.61 L350.80 183.98 L350.92 183.36 L351.03 182.76 L351.16 182.17 L351.28 181.59 L351.40 181.02 L351.53 180.47 L351.66 179.93 L351.79 179.40 L351.92 178.88 L352.06 178.37 L352.19 177.88 L352.33 177.39 L352.47 176.92 L352.61 176.46 L352.76 176.00 L352.91 175.56 L353.05 175.13 L353.20 174.71 L353.36 174.30 L353.51 173.89 L353.67 173.50 L353.82 173.12 L353.98 172.75 L354.14 172.39 L354.30 172.03 L354.47 171.69 L354.63 171.35 L354.80 171.03 L354.97 170.71 L355.14 170.40 L355.31 170.11 L355.49 169.82 L355.66 169.53 L355.84 169.26 L356.01 169.00 L356.19 168.74 L356.37 168.50 L356.55 168.26 L356.74 168.03 L356.92 167.80 L357.11 167.59 L357.29 167.39 L357.48 167.19 L357.67 167.00 L357.86 166.82 L358.05 166.64 L358.24 166.48 L358.43 166.32 L358.62 166.17 L358.82 166.03 L359.01 165.90 L359.21 165.77 L359.40 165.65 L359.60 165.54 L359.80 165.44 L360.00 165.35 L360.20 165.26 L360.39 165.18 L360.59 165.11 L360.79 165.04 L360.99 164.99 L361.19 164.94 L361.39 164.89 L361.60 164.86 L361.80 164.83 L362.00 164.82 L362.20 164.80 L362.40 164.80 L362.60 164.80 L362.80 164.82 L363.00 164.83 L363.20 164.86 L363.41 164.89 L363.61 164.94 L363.81 164.99 L364.01 165.04 L364.21 165.11 L364.41 165.18 L364.60 165.26 L364.80 165.35 L365.00 165.44 L365.20 165.54 L365.40 165.65 L365.59 165.77 L365.79 165.90 L365.98 166.03 L366.18 166.17 L366.37 166.32 L366.56 166.48 L366.75 166.64 L366.94 166.82 L367.13 167.00 L367.32 167.19 L367.51 167.39 L367.69 167.59 L367.88 167.80 L368.06 168.03 L368.25 168.26 L368.43 168.50 L368.61 168.74 L368.79 169.00 L368.96 169.26 L369.14 169.53 L369.31 169.82 L369.49 170.11 L369.66 170.40 L369.83 170.71 L370.00 171.03 L370.17 171.35 L370.33 171.69 L370.50 172.03 L370.66 172.39 L370.82 172.75 L370.98 173.12 L371.13 173.50 L371.29 173.89 L371.44 174.30 L371.60 174.71 L371.75 175.13 L371.89 175.56 L372.04 176.00 L372.19 176.46 L372.33 176.92 L372.47 177.39 L372.61 177.88 L372.74 178.37 L372.88 178.88 L373.01 179.40 L373.14 179.93 L373.27 180.47 L373.40 181.02 L373.52 181.59 L373.64 182.17 L373.77 182.76 L373.88 183.36 L374.00 183.98 L374.11 184.61 L374.23 185.25 L374.34 185.90 L374.44 186.57 L374.55 187.26 L374.65 187.96 L374.76 188.67 L374.86 189.40 L374.95 190.14 L375.05 190.91 L375.14 191.68 L375.23 192.47 L375.32 193.28 L375.41 194.11 L375.49 194.95 L375.58 195.82 L375.66 196.70 L375.74 197.60 L375.81 198.52 L375.89 199.46 L375.96 200.42 L376.03 201.40 L376.10 202.41 L376.17 203.43 L376.23 204.48 L376.29 205.56 L376.35 206.65 L376.41 207.78 L376.47 208.93 L376.52 210.10 L376.58 211.31 L376.63 212.54 L376.68 213.81 L376.73 215.10 L376.77 216.43 L376.82 217.79 L376.86 219.19 L376.90 220.63 L376.94 222.10 L376.98 223.61 L377.01 225.17 L377.05 226.76 L377.08 228.41 L377.11 230.10 L377.14 231.84 L377.17 233.63 L377.19 235.48 L377.22 237.39 L377.24 239.36 L377.26 241.40 L377.29 243.51 L377.31 245.69 L377.32 247.95 L377.34 250.29 L377.36 252.73 L377.37 255.26 L377.39 257.90 L377.40 260.65 L377.41 263.52 L377.42 266.53 L377.43 269.68 L377.44 272.98 L377.45 276.47 L377.46 280.15 L377.46 284.04 L377.47 288.17 L377.48 292.58 L377.48 297.29 L377.48 302.36 L377.49 307.85 L377.49 313.81 L377.49 320.35 L377.49 325.50 M377.51 325.50 L377.51 323.45 L377.51 316.91 L377.51 310.95 L377.51 305.46 L377.52 300.39 L377.52 295.68 L377.53 291.27 L377.53 287.14 L377.54 283.25 L377.55 279.57 L377.55 276.08 L377.56 272.78 L377.57 269.63 L377.58 266.62 L377.59 263.75 L377.60 261.00 L377.62 258.36 L377.63 255.83 L377.64 253.39 L377.66 251.05 L377.68 248.79 L377.70 246.61 L377.71 244.50 L377.74 242.46 L377.76 240.49 L377.78 238.58 L377.80 236.73 L377.83 234.94 L377.86 233.20 L377.88 231.51 L377.91 229.86 L377.95 228.27 L377.98 226.71 L378.01 225.20 L378.05 223.73 L378.08 222.29 L378.12 220.89 L378.16 219.53 L378.20 218.20 L378.25 216.91 L378.29 215.64 L378.34 214.41 L378.39 213.20 L378.44 212.03 L378.49 210.88 L378.54 209.75 L378.60 208.66 L378.66 207.58 L378.71 206.53 L378.78 205.51 L378.84 204.50 L378.90 203.52 L378.97 202.56 L379.04 201.62 L379.11 200.70 L379.18 199.80 L379.25 198.92 L379.33 198.05 L379.40 197.21 L379.48 196.38 L379.56 195.57 L379.65 194.78 L379.73 194.01 L379.82 193.24 L379.91 192.50 L380.00 191.77 L380.09 191.06 L380.19 190.36 L380.28 189.67 L380.38 189.00 L380.48 188.35 L380.58 187.71 L380.69 187.08 L380.79 186.46 L380.90 185.86 L381.01 185.27 L381.12 184.69 L381.24 184.12 L381.35 183.57 L381.47 183.03 L381.59 182.50 L381.71 181.98 L381.83 181.47 L381.96 180.98 L382.08 180.49 L382.21 180.02 L382.34 179.56 L382.47 179.10 L382.60 178.66 L382.74 178.23 L382.88 177.81 L383.01 177.40 L383.15 176.99 L383.30 176.60 L383.44 176.22 L383.58 175.85 L383.73 175.49 L383.88 175.13 L384.03 174.79 L384.18 174.45 L384.33 174.13 L384.48 173.81 L384.64 173.50 L384.80 173.21 L384.95 172.92 L385.11 172.63 L385.27 172.36 L385.44 172.10 L385.60 171.84 L385.76 171.60 L385.93 171.36 L386.09 171.13 L386.26 170.90 L386.43 170.69 L386.60 170.49 L386.77 170.29 L386.94 170.10 L387.11 169.92 L387.29 169.74 L387.46 169.58 L387.64 169.42 L387.81 169.27 L387.99 169.13 L388.17 169.00 L388.34 168.87 L388.52 168.75 L388.70 168.64 L388.88 168.54 L389.06 168.45 L389.24 168.36 L389.42 168.28 L389.60 168.21 L389.79 168.14 L389.97 168.09 L390.15 168.04 L390.33 167.99 L390.52 167.96 L390.70 167.93 L390.88 167.92 L391.07 167.90 L391.25 167.90 L391.43 167.90 L391.62 167.92 L391.80 167.93 L391.98 167.96 L392.17 167.99 L392.35 168.04 L392.53 168.09 L392.71 168.14 L392.90 168.21 L393.08 168.28 L393.26 168.36 L393.44 168.45 L393.62 168.54 L393.80 168.64 L393.98 168.75 L394.16 168.87 L394.33 169.00 L394.51 169.13 L394.69 169.27 L394.86 169.42 L395.04 169.58 L395.21 169.74 L395.39 169.92 L395.56 170.10 L395.73 170.29 L395.90 170.49 L396.07 170.69 L396.24 170.90 L396.41 171.13 L396.57 171.36 L396.74 171.60 L396.90 171.84 L397.06 172.10 L397.23 172.36 L397.39 172.63 L397.55 172.92 L397.70 173.21 L397.86 173.50 L398.02 173.81 L398.17 174.13 L398.32 174.45 L398.47 174.79 L398.62 175.13 L398.77 175.49 L398.92 175.85 L399.06 176.22 L399.20 176.60 L399.35 176.99 L399.49 177.40 L399.62 177.81 L399.76 178.23 L399.90 178.66 L400.03 179.10 L400.16 179.56 L400.29 180.02 L400.42 180.49 L400.54 180.98 L400.67 181.47 L400.79 181.98 L400.91 182.50 L401.03 183.03 L401.15 183.57 L401.26 184.12 L401.38 184.69 L401.49 185.27 L401.60 185.86 L401.71 186.46 L401.81 187.08 L401.92 187.71 L402.02 188.35 L402.12 189.00 L402.22 189.67 L402.31 190.36 L402.41 191.06 L402.50 191.77 L402.59 192.50 L402.68 193.24 L402.77 194.01 L402.85 194.78 L402.94 195.57 L403.02 196.38 L403.10 197.21 L403.17 198.05 L403.25 198.92 L403.32 199.80 L403.39 200.70 L403.46 201.62 L403.53 202.56 L403.60 203.52 L403.66 204.50 L403.72 205.51 L403.79 206.53 L403.84 207.58 L403.90 208.66 L403.96 209.75 L404.01 210.88 L404.06 212.03 L404.11 213.20 L404.16 214.41 L404.21 215.64 L404.25 216.91 L404.30 218.20 L404.34 219.53 L404.38 220.89 L404.42 222.29 L404.45 223.73 L404.49 225.20 L404.52 226.71 L404.55 228.27 L404.59 229.86 L404.62 231.51 L404.64 233.20 L404.67 234.94 L404.70 236.73 L404.72 238.58 L404.74 240.49 L404.76 242.46 L404.79 244.50 L404.80 246.61 L404.82 248.79 L404.84 251.05 L404.86 253.39 L404.87 255.83 L404.88 258.36 L404.90 261.00 L404.91 263.75 L404.92 266.62 L404.93 269.63 L404.94 272.78 L404.95 276.08 L404.95 279.57 L404.96 283.25 L404.97 287.14 L404.97 291.27 L404.98 295.68 L404.98 300.39 L404.99 305.46 L404.99 310.95 L404.99 316.91 L404.99 323.45 L404.99 325.50 M405.01 325.50 L405.01 322.61 L405.01 313.48 L405.01 305.44 L405.02 298.27 L405.03 291.80 L405.03 285.91 L405.04 280.50 L405.05 275.52 L405.06 270.90 L405.08 266.59 L405.09 262.56 L405.11 258.78 L405.13 255.22 L405.15 251.86 L405.17 248.68 L405.20 245.67 L405.23 242.81 L405.25 240.09 L405.29 237.50 L405.32 235.03 L405.36 232.67 L405.40 230.41 L405.44 228.25 L405.49 226.18 L405.53 224.20 L405.58 222.30 L405.64 220.48 L405.69 218.73 L405.75 217.05 L405.81 215.43 L405.88 213.88 L405.95 212.39 L406.02 210.95 L406.09 209.57 L406.17 208.25 L406.25 206.97 L406.33 205.74 L406.41 204.57 L406.50 203.43 L406.59 202.35 L406.69 201.30 L406.78 200.30 L406.88 199.34 L406.99 198.41 L407.09 197.53 L407.20 196.68 L407.31 195.87 L407.42 195.09 L407.54 194.35 L407.65 193.65 L407.78 192.98 L407.90 192.34 L408.02 191.73 L408.15 191.15 L408.28 190.61 L408.41 190.09 L408.54 189.61 L408.68 189.16 L408.81 188.73 L408.95 188.34 L409.09 187.97 L409.23 187.63 L409.38 187.32 L409.52 187.04 L409.66 186.78 L409.81 186.55 L409.96 186.35 L410.10 186.18 L410.25 186.03 L410.40 185.91 L410.55 185.82 L410.70 185.75 L410.85 185.71 L411.00 185.70 L411.15 185.71 L411.30 185.75 L411.45 185.82 L411.60 185.91 L411.75 186.03 L411.90 186.18 L412.04 186.35 L412.19 186.55 L412.34 186.78 L412.48 187.04 L412.62 187.32 L412.77 187.63 L412.91 187.97 L413.05 188.34 L413.19 188.73 L413.32 189.16 L413.46 189.61 L413.59 190.09 L413.72 190.61 L413.85 191.15 L413.98 191.73 L414.10 192.34 L414.22 192.98 L414.35 193.65 L414.46 194.35 L414.58 195.09 L414.69 195.87 L414.80 196.68 L414.91 197.53 L415.01 198.41 L415.12 199.34 L415.22 200.30 L415.31 201.30 L415.41 202.35 L415.50 203.43 L415.59 204.57 L415.67 205.74 L415.75 206.97 L415.83 208.25 L415.91 209.57 L415.98 210.95 L416.05 212.39 L416.12 213.88 L416.19 215.43 L416.25 217.05 L416.31 218.73 L416.36 220.48 L416.42 222.30 L416.47 224.20 L416.51 226.18 L416.56 228.25 L416.60 230.41 L416.64 232.67 L416.68 235.03 L416.71 237.50 L416.75 240.09 L416.77 242.81 L416.80 245.67 L416.83 248.68 L416.85 251.86 L416.87 255.22 L416.89 258.78 L416.91 262.56 L416.92 266.59 L416.94 270.90 L416.95 275.52 L416.96 280.50 L416.97 285.91 L416.97 291.80 L416.98 298.27 L416.99 305.44 L416.99 313.48 L416.99 322.61 L416.99 325.50 M417.01 325.50 L417.01 319.31 L417.01 313.35 L417.01 307.86 L417.02 302.79 L417.02 298.08 L417.02 293.67 L417.03 289.54 L417.03 285.65 L417.04 281.97 L417.05 278.48 L417.06 275.18 L417.06 272.03 L417.07 269.02 L417.08 266.15 L417.09 263.40 L417.10 260.76 L417.12 258.23 L417.13 255.79 L417.14 253.45 L417.16 251.19 L417.18 249.01 L417.19 246.90 L417.21 244.86 L417.23 242.89 L417.25 240.98 L417.27 239.13 L417.30 237.34 L417.32 235.60 L417.35 233.91 L417.37 232.26 L417.40 230.67 L417.43 229.11 L417.46 227.60 L417.49 226.13 L417.52 224.69 L417.56 223.29 L417.60 221.93 L417.63 220.60 L417.67 219.31 L417.71 218.04 L417.75 216.81 L417.80 215.60 L417.84 214.43 L417.89 213.28 L417.94 212.15 L417.99 211.06 L418.04 209.98 L418.09 208.93 L418.15 207.91 L418.20 206.90 L418.26 205.92 L418.32 204.96 L418.38 204.02 L418.44 203.10 L418.51 202.20 L418.57 201.32 L418.64 200.45 L418.71 199.61 L418.78 198.78 L418.85 197.97 L418.93 197.18 L419.00 196.41 L419.08 195.64 L419.16 194.90 L419.24 194.17 L419.33 193.46 L419.41 192.76 L419.50 192.07 L419.59 191.40 L419.68 190.75 L419.77 190.11 L419.86 189.48 L419.96 188.86 L420.05 188.26 L420.15 187.67 L420.25 187.09 L420.36 186.52 L420.46 185.97 L420.56 185.43 L420.67 184.90 L420.78 184.38 L420.89 183.87 L421.00 183.38 L421.12 182.89 L421.23 182.42 L421.35 181.96 L421.47 181.50 L421.58 181.06 L421.71 180.63 L421.83 180.21 L421.95 179.80 L422.08 179.39 L422.21 179.00 L422.33 178.62 L422.46 178.25 L422.60 177.89 L422.73 177.53 L422.86 177.19 L423.00 176.85 L423.14 176.53 L423.27 176.21 L423.41 175.90 L423.55 175.61 L423.69 175.32 L423.84 175.03 L423.98 174.76 L424.13 174.50 L424.27 174.24 L424.42 174.00 L424.57 173.76 L424.72 173.53 L424.87 173.30 L425.02 173.09 L425.17 172.89 L425.33 172.69 L425.48 172.50 L425.64 172.32 L425.79 172.14 L425.95 171.98 L426.10 171.82 L426.26 171.67 L426.42 171.53 L426.58 171.40 L426.74 171.27 L426.90 171.15 L427.06 171.04 L427.22 170.94 L427.38 170.85 L427.55 170.76 L427.71 170.68 L427.87 170.61 L428.04 170.54 L428.20 170.49 L428.36 170.44 L428.53 170.39 L428.69 170.36 L428.86 170.33 L429.02 170.32 L429.19 170.30 L429.35 170.30 L429.51 170.30 L429.68 170.32 L429.84 170.33 L430.01 170.36 L430.17 170.39 L430.34 170.44 L430.50 170.49 L430.66 170.54 L430.83 170.61 L430.99 170.68 L431.15 170.76 L431.32 170.85 L431.48 170.94 L431.64 171.04 L431.80 171.15 L431.96 171.27 L432.12 171.40 L432.28 171.53 L432.44 171.67 L432.60 171.82 L432.75 171.98 L432.91 172.14 L433.06 172.32 L433.22 172.50 L433.37 172.69 L433.53 172.89 L433.68 173.09 L433.83 173.30 L433.98 173.53 L434.13 173.76 L434.28 174.00 L434.43 174.24 L434.57 174.50 L434.72 174.76 L434.86 175.03 L435.01 175.32 L435.15 175.61 L435.29 175.90 L435.43 176.21 L435.56 176.53 L435.70 176.85 L435.84 177.19 L435.97 177.53 L436.10 177.89 L436.24 178.25 L436.37 178.62 L436.49 179.00 L436.62 179.39 L436.75 179.80 L436.87 180.21 L436.99 180.63 L437.12 181.06 L437.23 181.50 L437.35 181.96 L437.47 182.42 L437.58 182.89 L437.70 183.38 L437.81 183.87 L437.92 184.38 L438.03 184.90 L438.14 185.43 L438.24 185.97 L438.34 186.52 L438.45 187.09 L438.55 187.67 L438.65 188.26 L438.74 188.86 L438.84 189.48 L438.93 190.11 L439.02 190.75 L439.11 191.40 L439.20 192.07 L439.29 192.76 L439.37 193.46 L439.46 194.17 L439.54 194.90 L439.62 195.64 L439.70 196.41 L439.77 197.18 L439.85 197.97 L439.92 198.78 L439.99 199.61 L440.06 200.45 L440.13 201.32 L440.19 202.20 L440.26 203.10 L440.32 204.02 L440.38 204.96 L440.44 205.92 L440.50 206.90 L440.55 207.91 L440.61 208.93 L440.66 209.98 L440.71 211.06 L440.76 212.15 L440.81 213.28 L440.86 214.43 L440.90 215.60 L440.95 216.81 L440.99 218.04 L441.03 219.31 L441.07 220.60 L441.10 221.93 L441.14 223.29 L441.18 224.69 L441.21 226.13 L441.24 227.60 L441.27 229.11 L441.30 230.67 L441.33 232.26 L441.35 233.91 L441.38 235.60 L441.40 237.34 L441.43 239.13 L441.45 240.98 L441.47 242.89 L441.49 244.86 L441.51 246.90 L441.52 249.01 L441.54 251.19 L441.56 253.45 L441.57 255.79 L441.58 258.23 L441.60 260.76 L441.61 263.40 L441.62 266.15 L441.63 269.02 L441.64 272.03 L441.64 275.18 L441.65 278.48 L441.66 281.97 L441.67 285.65 L441.67 289.54 L441.68 293.67 L441.68 298.08 L441.68 302.79 L441.69 307.86 L441.69 313.35 L441.69 319.31 L441.69 325.50 M441.71 325.50 L441.71 318.78 L441.71 310.74 L441.71 303.57 L441.72 297.10 L441.73 291.21 L441.73 285.80 L441.74 280.82 L441.75 276.20 L441.76 271.89 L441.77 267.86 L441.79 264.08 L441.80 260.52 L441.82 257.16 L441.84 253.98 L441.85 250.97 L441.88 248.11 L441.90 245.39 L441.92 242.80 L441.95 240.33 L441.98 237.97 L442.01 235.71 L442.05 233.55 L442.08 231.48 L442.12 229.50 L442.16 227.60 L442.20 225.78 L442.24 224.03 L442.29 222.35 L442.34 220.73 L442.39 219.18 L442.44 217.69 L442.50 216.25 L442.55 214.87 L442.61 213.55 L442.68 212.27 L442.74 211.04 L442.81 209.87 L442.88 208.73 L442.95 207.65 L443.02 206.60 L443.10 205.60 L443.18 204.64 L443.26 203.71 L443.34 202.83 L443.42 201.98 L443.51 201.17 L443.60 200.39 L443.69 199.65 L443.78 198.95 L443.87 198.28 L443.97 197.64 L444.07 197.03 L444.17 196.45 L444.27 195.91 L444.37 195.39 L444.48 194.91 L444.58 194.46 L444.69 194.03 L444.80 193.64 L444.91 193.27 L445.02 192.93 L445.13 192.62 L445.24 192.34 L445.35 192.08 L445.47 191.85 L445.58 191.65 L445.70 191.48 L445.81 191.33 L445.93 191.21 L446.05 191.12 L446.17 191.05 L446.28 191.01 L446.40 191.00 L446.52 191.01 L446.63 191.05 L446.75 191.12 L446.87 191.21 L446.99 191.33 L447.10 191.48 L447.22 191.65 L447.33 191.85 L447.45 192.08 L447.56 192.34 L447.67 192.62 L447.78 192.93 L447.89 193.27 L448.00 193.64 L448.11 194.03 L448.22 194.46 L448.32 194.91 L448.43 195.39 L448.53 195.91 L448.63 196.45 L448.73 197.03 L448.83 197.64 L448.93 198.28 L449.02 198.95 L449.11 199.65 L449.20 200.39 L449.29 201.17 L449.38 201.98 L449.46 202.83 L449.54 203.71 L449.62 204.64 L449.70 205.60 L449.78 206.60 L449.85 207.65 L449.92 208.73 L449.99 209.87 L450.06 211.04 L450.12 212.27 L450.19 213.55 L450.25 214.87 L450.30 216.25 L450.36 217.69 L450.41 219.18 L450.46 220.73 L450.51 222.35 L450.56 224.03 L450.60 225.78 L450.64 227.60 L450.68 229.50 L450.72 231.48 L450.75 233.55 L450.79 235.71 L450.82 237.97 L450.85 240.33 L450.88 242.80 L450.90 245.39 L450.92 248.11 L450.95 250.97 L450.96 253.98 L450.98 257.16 L451.00 260.52 L451.01 264.08 L451.03 267.86 L451.04 271.89 L451.05 276.20 L451.06 280.82 L451.07 285.80 L451.07 291.21 L451.08 297.10 L451.09 303.57 L451.09 310.74 L451.09 318.78 L451.09 325.50 M451.11 325.50 L451.11 319.97 L451.11 313.50 L451.11 307.61 L451.12 302.20 L451.12 297.22 L451.13 292.60 L451.13 288.29 L451.14 284.26 L451.14 280.48 L451.15 276.92 L451.16 273.56 L451.17 270.38 L451.18 267.37 L451.19 264.51 L451.20 261.79 L451.21 259.20 L451.23 256.73 L451.24 254.37 L451.26 252.11 L451.27 249.95 L451.29 247.88 L451.31 245.90 L451.33 244.00 L451.35 242.18 L451.37 240.43 L451.39 238.75 L451.42 237.13 L451.44 235.58 L451.47 234.09 L451.50 232.65 L451.53 231.27 L451.56 229.95 L451.59 228.67 L451.62 227.44 L451.65 226.27 L451.69 225.13 L451.72 224.05 L451.76 223.00 L451.80 222.00 L451.84 221.04 L451.88 220.11 L451.92 219.23 L451.96 218.38 L452.00 217.57 L452.05 216.79 L452.09 216.05 L452.14 215.35 L452.19 214.68 L452.23 214.04 L452.28 213.43 L452.33 212.85 L452.38 212.31 L452.44 211.79 L452.49 211.31 L452.54 210.86 L452.59 210.43 L452.65 210.04 L452.70 209.67 L452.76 209.33 L452.81 209.02 L452.87 208.74 L452.93 208.48 L452.98 208.25 L453.04 208.05 L453.10 207.88 L453.16 207.73 L453.22 207.61 L453.27 207.52 L453.33 207.45 L453.39 207.41 L453.45 207.40 L453.51 207.41 L453.57 207.45 L453.63 207.52 L453.68 207.61 L453.74 207.73 L453.80 207.88 L453.86 208.05 L453.92 208.25 L453.97 208.48 L454.03 208.74 L454.09 209.02 L454.14 209.33 L454.20 209.67 L454.25 210.04 L454.31 210.43 L454.36 210.86 L454.41 211.31 L454.46 211.79 L454.52 212.31 L454.57 212.85 L454.62 213.43 L454.67 214.04 L454.71 214.68 L454.76 215.35 L454.81 216.05 L454.85 216.79 L454.90 217.57 L454.94 218.38 L454.98 219.23 L455.02 220.11 L455.06 221.04 L455.10 222.00 L455.14 223.00 L455.18 224.05 L455.21 225.13 L455.25 226.27 L455.28 227.44 L455.31 228.67 L455.34 229.95 L455.37 231.27 L455.40 232.65 L455.43 234.09 L455.46 235.58 L455.48 237.13 L455.51 238.75 L455.53 240.43 L455.55 242.18 L455.57 244.00 L455.59 245.90 L455.61 247.88 L455.63 249.95 L455.64 252.11 L455.66 254.37 L455.67 256.73 L455.69 259.20 L455.70 261.79 L455.71 264.51 L455.72 267.37 L455.73 270.38 L455.74 273.56 L455.75 276.92 L455.76 280.48 L455.76 284.26 L455.77 288.29 L455.77 292.60 L455.78 297.22 L455.78 302.20 L455.79 307.61 L455.79 313.50 L455.79 319.97 L455.79 325.50 M455.81 325.50 L455.81 324.92 L455.81 323.83 L455.81 322.73 L455.81 321.63 L455.81 320.54 L455.81 319.44 L455.81 318.34 L455.81 317.25 L455.81 316.15 L455.81 315.06 L455.81 313.96 L455.81 312.86 L455.81 311.77 L455.81 310.67 L455.82 309.57 L455.82 308.48 L455.82 307.38 L455.82 306.29 L455.82 305.19 L455.82 304.09 L455.82 303.00 L455.82 301.90 L455.82 300.80 L455.82 299.71 L455.82 298.61 L455.83 297.52 L455.83 296.42 L455.83 295.32 L455.83 294.23 L455.83 293.13 L455.83 292.03 L455.83 290.94 L455.83 289.84 L455.84 288.75 L455.84 287.65 L455.84 286.55 L455.84 285.46 L455.84 284.36 L455.85 283.26 L455.85 282.17 L455.85 281.07 L455.85 279.98 L455.85 278.88 L455.86 277.78 L455.86 276.69 L455.86 275.59 L455.86 274.49 L455.87 273.40 L455.87 272.30 L455.87 271.21 L455.88 270.11 L455.88 269.01 L455.88 267.92 L455.89 266.82 L455.89 265.72 L455.90 264.63 L455.90 263.53 L455.90 262.44 L455.91 261.34 L455.91 260.24 L455.92 259.15 L455.92 258.05 L455.93 256.95 L455.94 255.86 L455.94 254.76 L455.95 253.67 L455.96 252.57 L455.96 251.47 L455.97 250.38 L455.98 249.28 L455.99 248.18 L455.99 247.09 L456.00 245.99 L456.01 244.90 L456.02 243.80 L456.03 242.70 L456.04 241.61 L456.05 240.51 L456.06 239.41 L456.08 238.32 L456.09 237.22 L456.10 236.13 L456.12 235.03 L456.13 233.93 L456.15 232.84 L456.16 231.74 L456.18 230.64 L456.19 229.55 L456.21 228.45 L456.23 227.36 L456.25 226.26 L456.27 225.16 L456.29 224.07 L456.31 222.97 L456.34 221.87 L456.36 220.78 L456.39 219.68 L456.41 218.59 L456.44 217.49 L456.47 216.39 L456.50 215.30 L456.53 214.20 L456.57 213.10 L456.60 212.01 L456.64 210.91 L456.68 209.82 L456.71 208.72 L456.76 207.62 L456.80 206.53 L456.84 205.43 L456.89 204.33 L456.94 203.24 L456.99 202.14 L457.05 201.05 L457.10 199.97 L457.16 198.89 L457.22 197.82 L457.29 196.76 L457.36 195.70 L457.43 194.65 L457.50 193.60 L457.58 192.55 L457.66 191.51 L457.74 190.47 L457.83 189.43 L457.92 188.39 L458.02 187.35 L458.12 186.31 L458.22 185.28 L458.33 184.23 L458.45 183.19 L458.57 182.15 L458.69 181.10 L458.82 180.05 L458.96 179.00 L459.10 177.94 L459.25 176.88 L459.41 175.82 L459.57 174.75 L459.74 173.68 L459.92 172.60 L460.11 171.51 L460.30 170.43 L460.51 169.33 L460.72 168.23 L460.94 167.13 L461.18 166.02 L461.42 164.90 L461.68 163.78 L461.94 162.65 L462.22 161.51 L462.51 160.37 L462.81 159.23 L463.13 158.07 L463.46 156.91 L463.81 155.75 L464.17 154.58 L464.55 153.40 L464.95 152.22 L465.36 151.03 L465.79 149.83 L466.25 148.63 L466.72 147.43 L467.21 146.22 L467.73 145.00 L468.27 143.78 L468.84 142.55 L469.43 141.32 L470.04 140.08 L470.69 138.84 L471.36 137.60 L472.07 136.35 L472.80 135.09 L473.57 133.84 L474.38 132.58 L475.22 131.31 L476.10 130.04 L477.02 128.77 L477.98 127.50 L478.98 126.22 L480.03 124.94 L481.13 123.66 L482.27 122.38 L483.47 121.09 L484.73 119.81 L486.04 118.58 L487.40 117.37 L488.84 116.16 L490.33 114.95 L491.89 113.73 L493.53 112.52 L495.24 111.30 L497.02 110.08 L498.89 108.85 L500.84 107.61 L502.88 106.38 L505.01 105.14 L507.24 103.91 L509.57 102.66 L512.00 101.41 L514.54 100.14 L517.20 98.85 L519.98 97.57 L522.89 96.28 L525.93 95.00 L529.10 93.71 L532.42 92.42 L535.89 91.09 L539.51 89.72 L543.30 88.33 L547.27 86.93 L551.41 85.54 L555.74 84.17 L560.26 82.82 L564.99 81.47 L569.93 80.13 L575.10 78.79 L580.50 77.46" fill="none" stroke="#0808ff" stroke-width="1.15" stroke-linejoin="round"/>
</g>
<path d="M513.7 24.50 H559.9" stroke="#000" stroke-width="1.15"/>
<path d="M513.7 42.00 H559.9" stroke="#00ff00" stroke-width="1.15"/>
<path d="M513.7 59.35 H559.9" stroke="#ffa500" stroke-width="1.15"/>
<path d="M513.7 76.55 H559.9" stroke="#0808ff" stroke-width="1.15"/>
<path d="M62.5 11 V338.4" stroke="#000" stroke-width="1.2"/><path d="M580.5 11 V338.4" stroke="#000" stroke-width="1.05"/><path d="M61.9 11.6 H581" stroke="#000" stroke-width="1.2"/><path d="M61.9 337.9 H581" stroke="#000" stroke-width="1.0"/>
</svg>
</body></html>
